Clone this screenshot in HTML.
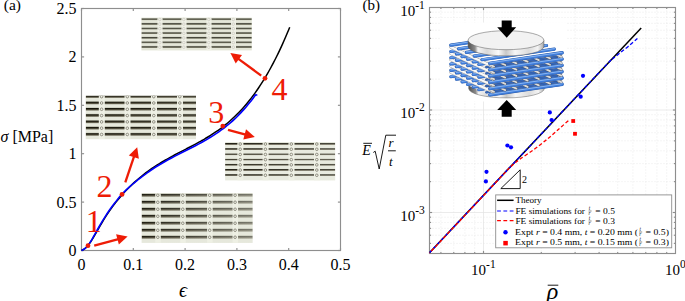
<!DOCTYPE html>
<html><head><meta charset="utf-8"><style>
html,body{margin:0;padding:0;background:#fff;width:685px;height:301px;overflow:hidden}
svg{display:block;font-family:"Liberation Serif",serif}
</style></head><body>
<svg width="685" height="301" viewBox="0 0 685 301">
<defs>
<linearGradient id="dband" x1="0" y1="0" x2="0" y2="1">
<stop offset="0" stop-color="#121208"/><stop offset="0.45" stop-color="#222218"/><stop offset="0.7" stop-color="#5e5e4c"/><stop offset="1" stop-color="#c6c8b4"/>
</linearGradient>
<linearGradient id="dband4" x1="0" y1="0" x2="0" y2="1">
<stop offset="0" stop-color="#4a4a3c"/><stop offset="0.6" stop-color="#5a5a4a"/><stop offset="1" stop-color="#a8a896"/>
</linearGradient>
<linearGradient id="disk" x1="0" y1="0" x2="1" y2="0">
<stop offset="0" stop-color="#505050"/><stop offset="0.09" stop-color="#8a8a8a"/><stop offset="0.13" stop-color="#f4f4f4"/><stop offset="0.25" stop-color="#d8d8d8"/><stop offset="0.4" stop-color="#fafafa"/><stop offset="0.5" stop-color="#c8c8c8"/><stop offset="0.62" stop-color="#f6f6f6"/><stop offset="0.8" stop-color="#dcdcdc"/><stop offset="0.92" stop-color="#f4f4f4"/><stop offset="1" stop-color="#a8a8a8"/>
</linearGradient>
<linearGradient id="pg4" x1="0" y1="0" x2="0" y2="1"><stop offset="0" stop-color="#d0d2c4"/><stop offset="0.385" stop-color="#46463a"/><stop offset="0.692" stop-color="#747462"/><stop offset="1" stop-color="#e4e6d8"/></linearGradient><linearGradient id="pf4" x1="0" y1="0" x2="1" y2="0"><stop offset="0" stop-color="#e4e6d8" stop-opacity="0.0"/><stop offset="1" stop-color="#e4e6d8" stop-opacity="0.0"/></linearGradient><linearGradient id="pg3" x1="0" y1="0" x2="0" y2="1"><stop offset="0" stop-color="#b8baa8"/><stop offset="0.278" stop-color="#141208"/><stop offset="0.639" stop-color="#55513f"/><stop offset="1" stop-color="#e6e8dc"/></linearGradient><linearGradient id="pf3" x1="0" y1="0" x2="1" y2="0"><stop offset="0" stop-color="#e6e8dc" stop-opacity="0.0"/><stop offset="1" stop-color="#e6e8dc" stop-opacity="0.12"/></linearGradient><linearGradient id="pg5" x1="0" y1="0" x2="0" y2="1"><stop offset="0" stop-color="#c8cabc"/><stop offset="0.217" stop-color="#1a180e"/><stop offset="0.696" stop-color="#747060"/><stop offset="1" stop-color="#e8eadf"/></linearGradient><linearGradient id="pf5" x1="0" y1="0" x2="1" y2="0"><stop offset="0" stop-color="#e8eadf" stop-opacity="0.0"/><stop offset="1" stop-color="#e8eadf" stop-opacity="0.2"/></linearGradient><linearGradient id="pg1" x1="0" y1="0" x2="0" y2="1"><stop offset="0" stop-color="#b8baa8"/><stop offset="0.250" stop-color="#1c1a10"/><stop offset="0.600" stop-color="#5a5644"/><stop offset="1" stop-color="#e6e8dc"/></linearGradient><linearGradient id="pf1" x1="0" y1="0" x2="1" y2="0"><stop offset="0" stop-color="#e6e8dc" stop-opacity="0.0"/><stop offset="1" stop-color="#e6e8dc" stop-opacity="0.45"/></linearGradient>
</defs>
<rect x="141.40" y="17.60" width="110.40" height="32.80" fill="#e4e6d8"/>
<svg x="141.40" y="17.60" width="110.40" height="32.80" overflow="hidden"><g transform="translate(-141.40,-17.60)">
<rect x="141.40" y="18.00" width="110.40" height="2.60" fill="url(#pg4)"/>
<rect x="141.40" y="22.62" width="110.40" height="2.60" fill="url(#pg4)"/>
<rect x="141.40" y="27.24" width="110.40" height="2.60" fill="url(#pg4)"/>
<rect x="141.40" y="31.86" width="110.40" height="2.60" fill="url(#pg4)"/>
<rect x="141.40" y="36.48" width="110.40" height="2.60" fill="url(#pg4)"/>
<rect x="141.40" y="41.10" width="110.40" height="2.60" fill="url(#pg4)"/>
<rect x="141.40" y="45.72" width="110.40" height="2.60" fill="url(#pg4)"/>
<rect x="141.40" y="17.60" width="110.40" height="32.80" fill="url(#pf4)"/>
<rect x="157.50" y="17.60" width="5.00" height="32.80" fill="#eef0e4"/>
<circle cx="160.00" cy="19.48" r="2.2" fill="#f0f0e8"/>
<circle cx="159.80" cy="19.48" r="1.3" fill="none" stroke="#c8c8bc" stroke-width="0.7"/>
<circle cx="160.00" cy="24.10" r="2.2" fill="#f0f0e8"/>
<circle cx="159.80" cy="24.10" r="1.3" fill="none" stroke="#c8c8bc" stroke-width="0.7"/>
<circle cx="160.00" cy="28.72" r="2.2" fill="#f0f0e8"/>
<circle cx="159.80" cy="28.72" r="1.3" fill="none" stroke="#c8c8bc" stroke-width="0.7"/>
<circle cx="160.00" cy="33.34" r="2.2" fill="#f0f0e8"/>
<circle cx="159.80" cy="33.34" r="1.3" fill="none" stroke="#c8c8bc" stroke-width="0.7"/>
<circle cx="160.00" cy="37.96" r="2.2" fill="#f0f0e8"/>
<circle cx="159.80" cy="37.96" r="1.3" fill="none" stroke="#c8c8bc" stroke-width="0.7"/>
<circle cx="160.00" cy="42.58" r="2.2" fill="#f0f0e8"/>
<circle cx="159.80" cy="42.58" r="1.3" fill="none" stroke="#c8c8bc" stroke-width="0.7"/>
<circle cx="160.00" cy="47.20" r="2.2" fill="#f0f0e8"/>
<circle cx="159.80" cy="47.20" r="1.3" fill="none" stroke="#c8c8bc" stroke-width="0.7"/>
<rect x="181.50" y="17.60" width="5.00" height="32.80" fill="#eef0e4"/>
<circle cx="184.00" cy="19.48" r="2.2" fill="#f0f0e8"/>
<circle cx="183.80" cy="19.48" r="1.3" fill="none" stroke="#c8c8bc" stroke-width="0.7"/>
<circle cx="184.00" cy="24.10" r="2.2" fill="#f0f0e8"/>
<circle cx="183.80" cy="24.10" r="1.3" fill="none" stroke="#c8c8bc" stroke-width="0.7"/>
<circle cx="184.00" cy="28.72" r="2.2" fill="#f0f0e8"/>
<circle cx="183.80" cy="28.72" r="1.3" fill="none" stroke="#c8c8bc" stroke-width="0.7"/>
<circle cx="184.00" cy="33.34" r="2.2" fill="#f0f0e8"/>
<circle cx="183.80" cy="33.34" r="1.3" fill="none" stroke="#c8c8bc" stroke-width="0.7"/>
<circle cx="184.00" cy="37.96" r="2.2" fill="#f0f0e8"/>
<circle cx="183.80" cy="37.96" r="1.3" fill="none" stroke="#c8c8bc" stroke-width="0.7"/>
<circle cx="184.00" cy="42.58" r="2.2" fill="#f0f0e8"/>
<circle cx="183.80" cy="42.58" r="1.3" fill="none" stroke="#c8c8bc" stroke-width="0.7"/>
<circle cx="184.00" cy="47.20" r="2.2" fill="#f0f0e8"/>
<circle cx="183.80" cy="47.20" r="1.3" fill="none" stroke="#c8c8bc" stroke-width="0.7"/>
<rect x="206.50" y="17.60" width="5.00" height="32.80" fill="#eef0e4"/>
<circle cx="209.00" cy="19.48" r="2.2" fill="#f0f0e8"/>
<circle cx="208.80" cy="19.48" r="1.3" fill="none" stroke="#c8c8bc" stroke-width="0.7"/>
<circle cx="209.00" cy="24.10" r="2.2" fill="#f0f0e8"/>
<circle cx="208.80" cy="24.10" r="1.3" fill="none" stroke="#c8c8bc" stroke-width="0.7"/>
<circle cx="209.00" cy="28.72" r="2.2" fill="#f0f0e8"/>
<circle cx="208.80" cy="28.72" r="1.3" fill="none" stroke="#c8c8bc" stroke-width="0.7"/>
<circle cx="209.00" cy="33.34" r="2.2" fill="#f0f0e8"/>
<circle cx="208.80" cy="33.34" r="1.3" fill="none" stroke="#c8c8bc" stroke-width="0.7"/>
<circle cx="209.00" cy="37.96" r="2.2" fill="#f0f0e8"/>
<circle cx="208.80" cy="37.96" r="1.3" fill="none" stroke="#c8c8bc" stroke-width="0.7"/>
<circle cx="209.00" cy="42.58" r="2.2" fill="#f0f0e8"/>
<circle cx="208.80" cy="42.58" r="1.3" fill="none" stroke="#c8c8bc" stroke-width="0.7"/>
<circle cx="209.00" cy="47.20" r="2.2" fill="#f0f0e8"/>
<circle cx="208.80" cy="47.20" r="1.3" fill="none" stroke="#c8c8bc" stroke-width="0.7"/>
<rect x="231.00" y="17.60" width="5.00" height="32.80" fill="#eef0e4"/>
<circle cx="233.50" cy="19.48" r="2.2" fill="#f0f0e8"/>
<circle cx="233.30" cy="19.48" r="1.3" fill="none" stroke="#c8c8bc" stroke-width="0.7"/>
<circle cx="233.50" cy="24.10" r="2.2" fill="#f0f0e8"/>
<circle cx="233.30" cy="24.10" r="1.3" fill="none" stroke="#c8c8bc" stroke-width="0.7"/>
<circle cx="233.50" cy="28.72" r="2.2" fill="#f0f0e8"/>
<circle cx="233.30" cy="28.72" r="1.3" fill="none" stroke="#c8c8bc" stroke-width="0.7"/>
<circle cx="233.50" cy="33.34" r="2.2" fill="#f0f0e8"/>
<circle cx="233.30" cy="33.34" r="1.3" fill="none" stroke="#c8c8bc" stroke-width="0.7"/>
<circle cx="233.50" cy="37.96" r="2.2" fill="#f0f0e8"/>
<circle cx="233.30" cy="37.96" r="1.3" fill="none" stroke="#c8c8bc" stroke-width="0.7"/>
<circle cx="233.50" cy="42.58" r="2.2" fill="#f0f0e8"/>
<circle cx="233.30" cy="42.58" r="1.3" fill="none" stroke="#c8c8bc" stroke-width="0.7"/>
<circle cx="233.50" cy="47.20" r="2.2" fill="#f0f0e8"/>
<circle cx="233.30" cy="47.20" r="1.3" fill="none" stroke="#c8c8bc" stroke-width="0.7"/>
</g></svg>
<rect x="85.70" y="95.80" width="110.30" height="43.40" fill="#e6e8dc"/>
<svg x="85.70" y="95.80" width="110.30" height="43.40" overflow="hidden"><g transform="translate(-85.70,-95.80)">
<rect x="85.70" y="94.90" width="110.30" height="3.60" fill="url(#pg3)"/>
<rect x="85.70" y="101.20" width="110.30" height="3.60" fill="url(#pg3)"/>
<rect x="85.70" y="107.50" width="110.30" height="3.60" fill="url(#pg3)"/>
<rect x="85.70" y="113.80" width="110.30" height="3.60" fill="url(#pg3)"/>
<rect x="85.70" y="120.10" width="110.30" height="3.60" fill="url(#pg3)"/>
<rect x="85.70" y="126.40" width="110.30" height="3.60" fill="url(#pg3)"/>
<rect x="85.70" y="132.70" width="110.30" height="3.60" fill="url(#pg3)"/>
<rect x="85.70" y="95.80" width="110.30" height="43.40" fill="url(#pf3)"/>
<rect x="98.80" y="95.80" width="6.00" height="43.40" fill="#eef0e4"/>
<circle cx="101.80" cy="96.68" r="2.2" fill="#f0f0e8"/>
<circle cx="101.60" cy="96.68" r="1.3" fill="none" stroke="#6a6a58" stroke-width="0.7"/>
<circle cx="101.80" cy="102.98" r="2.2" fill="#f0f0e8"/>
<circle cx="101.60" cy="102.98" r="1.3" fill="none" stroke="#6a6a58" stroke-width="0.7"/>
<circle cx="101.80" cy="109.28" r="2.2" fill="#f0f0e8"/>
<circle cx="101.60" cy="109.28" r="1.3" fill="none" stroke="#6a6a58" stroke-width="0.7"/>
<circle cx="101.80" cy="115.58" r="2.2" fill="#f0f0e8"/>
<circle cx="101.60" cy="115.58" r="1.3" fill="none" stroke="#6a6a58" stroke-width="0.7"/>
<circle cx="101.80" cy="121.88" r="2.2" fill="#f0f0e8"/>
<circle cx="101.60" cy="121.88" r="1.3" fill="none" stroke="#6a6a58" stroke-width="0.7"/>
<circle cx="101.80" cy="128.18" r="2.2" fill="#f0f0e8"/>
<circle cx="101.60" cy="128.18" r="1.3" fill="none" stroke="#6a6a58" stroke-width="0.7"/>
<circle cx="101.80" cy="134.48" r="2.2" fill="#f0f0e8"/>
<circle cx="101.60" cy="134.48" r="1.3" fill="none" stroke="#6a6a58" stroke-width="0.7"/>
<rect x="124.50" y="95.80" width="6.00" height="43.40" fill="#eef0e4"/>
<circle cx="127.50" cy="96.68" r="2.2" fill="#f0f0e8"/>
<circle cx="127.30" cy="96.68" r="1.3" fill="none" stroke="#6a6a58" stroke-width="0.7"/>
<circle cx="127.50" cy="102.98" r="2.2" fill="#f0f0e8"/>
<circle cx="127.30" cy="102.98" r="1.3" fill="none" stroke="#6a6a58" stroke-width="0.7"/>
<circle cx="127.50" cy="109.28" r="2.2" fill="#f0f0e8"/>
<circle cx="127.30" cy="109.28" r="1.3" fill="none" stroke="#6a6a58" stroke-width="0.7"/>
<circle cx="127.50" cy="115.58" r="2.2" fill="#f0f0e8"/>
<circle cx="127.30" cy="115.58" r="1.3" fill="none" stroke="#6a6a58" stroke-width="0.7"/>
<circle cx="127.50" cy="121.88" r="2.2" fill="#f0f0e8"/>
<circle cx="127.30" cy="121.88" r="1.3" fill="none" stroke="#6a6a58" stroke-width="0.7"/>
<circle cx="127.50" cy="128.18" r="2.2" fill="#f0f0e8"/>
<circle cx="127.30" cy="128.18" r="1.3" fill="none" stroke="#6a6a58" stroke-width="0.7"/>
<circle cx="127.50" cy="134.48" r="2.2" fill="#f0f0e8"/>
<circle cx="127.30" cy="134.48" r="1.3" fill="none" stroke="#6a6a58" stroke-width="0.7"/>
<rect x="151.00" y="95.80" width="6.00" height="43.40" fill="#eef0e4"/>
<circle cx="154.00" cy="96.68" r="2.2" fill="#f0f0e8"/>
<circle cx="153.80" cy="96.68" r="1.3" fill="none" stroke="#6a6a58" stroke-width="0.7"/>
<circle cx="154.00" cy="102.98" r="2.2" fill="#f0f0e8"/>
<circle cx="153.80" cy="102.98" r="1.3" fill="none" stroke="#6a6a58" stroke-width="0.7"/>
<circle cx="154.00" cy="109.28" r="2.2" fill="#f0f0e8"/>
<circle cx="153.80" cy="109.28" r="1.3" fill="none" stroke="#6a6a58" stroke-width="0.7"/>
<circle cx="154.00" cy="115.58" r="2.2" fill="#f0f0e8"/>
<circle cx="153.80" cy="115.58" r="1.3" fill="none" stroke="#6a6a58" stroke-width="0.7"/>
<circle cx="154.00" cy="121.88" r="2.2" fill="#f0f0e8"/>
<circle cx="153.80" cy="121.88" r="1.3" fill="none" stroke="#6a6a58" stroke-width="0.7"/>
<circle cx="154.00" cy="128.18" r="2.2" fill="#f0f0e8"/>
<circle cx="153.80" cy="128.18" r="1.3" fill="none" stroke="#6a6a58" stroke-width="0.7"/>
<circle cx="154.00" cy="134.48" r="2.2" fill="#f0f0e8"/>
<circle cx="153.80" cy="134.48" r="1.3" fill="none" stroke="#6a6a58" stroke-width="0.7"/>
<rect x="177.00" y="95.80" width="6.00" height="43.40" fill="#eef0e4"/>
<circle cx="180.00" cy="96.68" r="2.2" fill="#f0f0e8"/>
<circle cx="179.80" cy="96.68" r="1.3" fill="none" stroke="#6a6a58" stroke-width="0.7"/>
<circle cx="180.00" cy="102.98" r="2.2" fill="#f0f0e8"/>
<circle cx="179.80" cy="102.98" r="1.3" fill="none" stroke="#6a6a58" stroke-width="0.7"/>
<circle cx="180.00" cy="109.28" r="2.2" fill="#f0f0e8"/>
<circle cx="179.80" cy="109.28" r="1.3" fill="none" stroke="#6a6a58" stroke-width="0.7"/>
<circle cx="180.00" cy="115.58" r="2.2" fill="#f0f0e8"/>
<circle cx="179.80" cy="115.58" r="1.3" fill="none" stroke="#6a6a58" stroke-width="0.7"/>
<circle cx="180.00" cy="121.88" r="2.2" fill="#f0f0e8"/>
<circle cx="179.80" cy="121.88" r="1.3" fill="none" stroke="#6a6a58" stroke-width="0.7"/>
<circle cx="180.00" cy="128.18" r="2.2" fill="#f0f0e8"/>
<circle cx="179.80" cy="128.18" r="1.3" fill="none" stroke="#6a6a58" stroke-width="0.7"/>
<circle cx="180.00" cy="134.48" r="2.2" fill="#f0f0e8"/>
<circle cx="179.80" cy="134.48" r="1.3" fill="none" stroke="#6a6a58" stroke-width="0.7"/>
</g></svg>
<rect x="225.10" y="142.10" width="110.10" height="38.30" fill="#e8eadf"/>
<svg x="225.10" y="142.10" width="110.10" height="38.30" overflow="hidden"><g transform="translate(-225.10,-142.10)">
<rect x="225.10" y="142.90" width="110.10" height="2.30" fill="url(#pg5)"/>
<rect x="225.10" y="148.10" width="110.10" height="2.30" fill="url(#pg5)"/>
<rect x="225.10" y="153.30" width="110.10" height="2.30" fill="url(#pg5)"/>
<rect x="225.10" y="158.50" width="110.10" height="2.30" fill="url(#pg5)"/>
<rect x="225.10" y="163.70" width="110.10" height="2.30" fill="url(#pg5)"/>
<rect x="225.10" y="168.90" width="110.10" height="2.30" fill="url(#pg5)"/>
<rect x="225.10" y="174.10" width="110.10" height="2.30" fill="url(#pg5)"/>
<rect x="225.10" y="142.10" width="110.10" height="38.30" fill="url(#pf5)"/>
<rect x="237.40" y="142.10" width="6.00" height="38.30" fill="#eef0e4"/>
<circle cx="240.40" cy="144.06" r="2.2" fill="#f0f0e8"/>
<circle cx="240.20" cy="144.06" r="1.3" fill="none" stroke="#6a6a58" stroke-width="0.7"/>
<circle cx="240.40" cy="149.26" r="2.2" fill="#f0f0e8"/>
<circle cx="240.20" cy="149.26" r="1.3" fill="none" stroke="#6a6a58" stroke-width="0.7"/>
<circle cx="240.40" cy="154.46" r="2.2" fill="#f0f0e8"/>
<circle cx="240.20" cy="154.46" r="1.3" fill="none" stroke="#6a6a58" stroke-width="0.7"/>
<circle cx="240.40" cy="159.66" r="2.2" fill="#f0f0e8"/>
<circle cx="240.20" cy="159.66" r="1.3" fill="none" stroke="#6a6a58" stroke-width="0.7"/>
<circle cx="240.40" cy="164.86" r="2.2" fill="#f0f0e8"/>
<circle cx="240.20" cy="164.86" r="1.3" fill="none" stroke="#6a6a58" stroke-width="0.7"/>
<circle cx="240.40" cy="170.06" r="2.2" fill="#f0f0e8"/>
<circle cx="240.20" cy="170.06" r="1.3" fill="none" stroke="#6a6a58" stroke-width="0.7"/>
<circle cx="240.40" cy="175.26" r="2.2" fill="#f0f0e8"/>
<circle cx="240.20" cy="175.26" r="1.3" fill="none" stroke="#6a6a58" stroke-width="0.7"/>
<rect x="262.60" y="142.10" width="6.00" height="38.30" fill="#eef0e4"/>
<circle cx="265.60" cy="144.06" r="2.2" fill="#f0f0e8"/>
<circle cx="265.40" cy="144.06" r="1.3" fill="none" stroke="#6a6a58" stroke-width="0.7"/>
<circle cx="265.60" cy="149.26" r="2.2" fill="#f0f0e8"/>
<circle cx="265.40" cy="149.26" r="1.3" fill="none" stroke="#6a6a58" stroke-width="0.7"/>
<circle cx="265.60" cy="154.46" r="2.2" fill="#f0f0e8"/>
<circle cx="265.40" cy="154.46" r="1.3" fill="none" stroke="#6a6a58" stroke-width="0.7"/>
<circle cx="265.60" cy="159.66" r="2.2" fill="#f0f0e8"/>
<circle cx="265.40" cy="159.66" r="1.3" fill="none" stroke="#6a6a58" stroke-width="0.7"/>
<circle cx="265.60" cy="164.86" r="2.2" fill="#f0f0e8"/>
<circle cx="265.40" cy="164.86" r="1.3" fill="none" stroke="#6a6a58" stroke-width="0.7"/>
<circle cx="265.60" cy="170.06" r="2.2" fill="#f0f0e8"/>
<circle cx="265.40" cy="170.06" r="1.3" fill="none" stroke="#6a6a58" stroke-width="0.7"/>
<circle cx="265.60" cy="175.26" r="2.2" fill="#f0f0e8"/>
<circle cx="265.40" cy="175.26" r="1.3" fill="none" stroke="#6a6a58" stroke-width="0.7"/>
<rect x="288.50" y="142.10" width="6.00" height="38.30" fill="#eef0e4"/>
<circle cx="291.50" cy="144.06" r="2.2" fill="#f0f0e8"/>
<circle cx="291.30" cy="144.06" r="1.3" fill="none" stroke="#6a6a58" stroke-width="0.7"/>
<circle cx="291.50" cy="149.26" r="2.2" fill="#f0f0e8"/>
<circle cx="291.30" cy="149.26" r="1.3" fill="none" stroke="#6a6a58" stroke-width="0.7"/>
<circle cx="291.50" cy="154.46" r="2.2" fill="#f0f0e8"/>
<circle cx="291.30" cy="154.46" r="1.3" fill="none" stroke="#6a6a58" stroke-width="0.7"/>
<circle cx="291.50" cy="159.66" r="2.2" fill="#f0f0e8"/>
<circle cx="291.30" cy="159.66" r="1.3" fill="none" stroke="#6a6a58" stroke-width="0.7"/>
<circle cx="291.50" cy="164.86" r="2.2" fill="#f0f0e8"/>
<circle cx="291.30" cy="164.86" r="1.3" fill="none" stroke="#6a6a58" stroke-width="0.7"/>
<circle cx="291.50" cy="170.06" r="2.2" fill="#f0f0e8"/>
<circle cx="291.30" cy="170.06" r="1.3" fill="none" stroke="#6a6a58" stroke-width="0.7"/>
<circle cx="291.50" cy="175.26" r="2.2" fill="#f0f0e8"/>
<circle cx="291.30" cy="175.26" r="1.3" fill="none" stroke="#6a6a58" stroke-width="0.7"/>
<rect x="314.00" y="142.10" width="6.00" height="38.30" fill="#eef0e4"/>
<circle cx="317.00" cy="144.06" r="2.2" fill="#f0f0e8"/>
<circle cx="316.80" cy="144.06" r="1.3" fill="none" stroke="#6a6a58" stroke-width="0.7"/>
<circle cx="317.00" cy="149.26" r="2.2" fill="#f0f0e8"/>
<circle cx="316.80" cy="149.26" r="1.3" fill="none" stroke="#6a6a58" stroke-width="0.7"/>
<circle cx="317.00" cy="154.46" r="2.2" fill="#f0f0e8"/>
<circle cx="316.80" cy="154.46" r="1.3" fill="none" stroke="#6a6a58" stroke-width="0.7"/>
<circle cx="317.00" cy="159.66" r="2.2" fill="#f0f0e8"/>
<circle cx="316.80" cy="159.66" r="1.3" fill="none" stroke="#6a6a58" stroke-width="0.7"/>
<circle cx="317.00" cy="164.86" r="2.2" fill="#f0f0e8"/>
<circle cx="316.80" cy="164.86" r="1.3" fill="none" stroke="#6a6a58" stroke-width="0.7"/>
<circle cx="317.00" cy="170.06" r="2.2" fill="#f0f0e8"/>
<circle cx="316.80" cy="170.06" r="1.3" fill="none" stroke="#6a6a58" stroke-width="0.7"/>
<circle cx="317.00" cy="175.26" r="2.2" fill="#f0f0e8"/>
<circle cx="316.80" cy="175.26" r="1.3" fill="none" stroke="#6a6a58" stroke-width="0.7"/>
</g></svg>
<rect x="141.60" y="193.20" width="111.00" height="49.70" fill="#e6e8dc"/>
<svg x="141.60" y="193.20" width="111.00" height="49.70" overflow="hidden"><g transform="translate(-141.60,-193.20)">
<rect x="141.60" y="193.40" width="111.00" height="4.00" fill="url(#pg1)"/>
<rect x="141.60" y="200.40" width="111.00" height="4.00" fill="url(#pg1)"/>
<rect x="141.60" y="207.40" width="111.00" height="4.00" fill="url(#pg1)"/>
<rect x="141.60" y="214.40" width="111.00" height="4.00" fill="url(#pg1)"/>
<rect x="141.60" y="221.40" width="111.00" height="4.00" fill="url(#pg1)"/>
<rect x="141.60" y="228.40" width="111.00" height="4.00" fill="url(#pg1)"/>
<rect x="141.60" y="235.40" width="111.00" height="4.00" fill="url(#pg1)"/>
<rect x="141.60" y="193.20" width="111.00" height="49.70" fill="url(#pf1)"/>
<rect x="155.25" y="193.20" width="5.50" height="49.70" fill="#eef0e4"/>
<circle cx="158.00" cy="195.24" r="2.2" fill="#f0f0e8"/>
<circle cx="157.80" cy="195.24" r="1.3" fill="none" stroke="#6a6a58" stroke-width="0.7"/>
<circle cx="158.00" cy="202.24" r="2.2" fill="#f0f0e8"/>
<circle cx="157.80" cy="202.24" r="1.3" fill="none" stroke="#6a6a58" stroke-width="0.7"/>
<circle cx="158.00" cy="209.24" r="2.2" fill="#f0f0e8"/>
<circle cx="157.80" cy="209.24" r="1.3" fill="none" stroke="#6a6a58" stroke-width="0.7"/>
<circle cx="158.00" cy="216.24" r="2.2" fill="#f0f0e8"/>
<circle cx="157.80" cy="216.24" r="1.3" fill="none" stroke="#6a6a58" stroke-width="0.7"/>
<circle cx="158.00" cy="223.24" r="2.2" fill="#f0f0e8"/>
<circle cx="157.80" cy="223.24" r="1.3" fill="none" stroke="#6a6a58" stroke-width="0.7"/>
<circle cx="158.00" cy="230.24" r="2.2" fill="#f0f0e8"/>
<circle cx="157.80" cy="230.24" r="1.3" fill="none" stroke="#6a6a58" stroke-width="0.7"/>
<circle cx="158.00" cy="237.24" r="2.2" fill="#f0f0e8"/>
<circle cx="157.80" cy="237.24" r="1.3" fill="none" stroke="#6a6a58" stroke-width="0.7"/>
<rect x="180.25" y="193.20" width="5.50" height="49.70" fill="#eef0e4"/>
<circle cx="183.00" cy="195.24" r="2.2" fill="#f0f0e8"/>
<circle cx="182.80" cy="195.24" r="1.3" fill="none" stroke="#6a6a58" stroke-width="0.7"/>
<circle cx="183.00" cy="202.24" r="2.2" fill="#f0f0e8"/>
<circle cx="182.80" cy="202.24" r="1.3" fill="none" stroke="#6a6a58" stroke-width="0.7"/>
<circle cx="183.00" cy="209.24" r="2.2" fill="#f0f0e8"/>
<circle cx="182.80" cy="209.24" r="1.3" fill="none" stroke="#6a6a58" stroke-width="0.7"/>
<circle cx="183.00" cy="216.24" r="2.2" fill="#f0f0e8"/>
<circle cx="182.80" cy="216.24" r="1.3" fill="none" stroke="#6a6a58" stroke-width="0.7"/>
<circle cx="183.00" cy="223.24" r="2.2" fill="#f0f0e8"/>
<circle cx="182.80" cy="223.24" r="1.3" fill="none" stroke="#6a6a58" stroke-width="0.7"/>
<circle cx="183.00" cy="230.24" r="2.2" fill="#f0f0e8"/>
<circle cx="182.80" cy="230.24" r="1.3" fill="none" stroke="#6a6a58" stroke-width="0.7"/>
<circle cx="183.00" cy="237.24" r="2.2" fill="#f0f0e8"/>
<circle cx="182.80" cy="237.24" r="1.3" fill="none" stroke="#6a6a58" stroke-width="0.7"/>
<rect x="207.15" y="193.20" width="5.50" height="49.70" fill="#eef0e4"/>
<circle cx="209.90" cy="195.24" r="2.2" fill="#f0f0e8"/>
<circle cx="209.70" cy="195.24" r="1.3" fill="none" stroke="#6a6a58" stroke-width="0.7"/>
<circle cx="209.90" cy="202.24" r="2.2" fill="#f0f0e8"/>
<circle cx="209.70" cy="202.24" r="1.3" fill="none" stroke="#6a6a58" stroke-width="0.7"/>
<circle cx="209.90" cy="209.24" r="2.2" fill="#f0f0e8"/>
<circle cx="209.70" cy="209.24" r="1.3" fill="none" stroke="#6a6a58" stroke-width="0.7"/>
<circle cx="209.90" cy="216.24" r="2.2" fill="#f0f0e8"/>
<circle cx="209.70" cy="216.24" r="1.3" fill="none" stroke="#6a6a58" stroke-width="0.7"/>
<circle cx="209.90" cy="223.24" r="2.2" fill="#f0f0e8"/>
<circle cx="209.70" cy="223.24" r="1.3" fill="none" stroke="#6a6a58" stroke-width="0.7"/>
<circle cx="209.90" cy="230.24" r="2.2" fill="#f0f0e8"/>
<circle cx="209.70" cy="230.24" r="1.3" fill="none" stroke="#6a6a58" stroke-width="0.7"/>
<circle cx="209.90" cy="237.24" r="2.2" fill="#f0f0e8"/>
<circle cx="209.70" cy="237.24" r="1.3" fill="none" stroke="#6a6a58" stroke-width="0.7"/>
<rect x="232.55" y="193.20" width="5.50" height="49.70" fill="#eef0e4"/>
<circle cx="235.30" cy="195.24" r="2.2" fill="#f0f0e8"/>
<circle cx="235.10" cy="195.24" r="1.3" fill="none" stroke="#6a6a58" stroke-width="0.7"/>
<circle cx="235.30" cy="202.24" r="2.2" fill="#f0f0e8"/>
<circle cx="235.10" cy="202.24" r="1.3" fill="none" stroke="#6a6a58" stroke-width="0.7"/>
<circle cx="235.30" cy="209.24" r="2.2" fill="#f0f0e8"/>
<circle cx="235.10" cy="209.24" r="1.3" fill="none" stroke="#6a6a58" stroke-width="0.7"/>
<circle cx="235.30" cy="216.24" r="2.2" fill="#f0f0e8"/>
<circle cx="235.10" cy="216.24" r="1.3" fill="none" stroke="#6a6a58" stroke-width="0.7"/>
<circle cx="235.30" cy="223.24" r="2.2" fill="#f0f0e8"/>
<circle cx="235.10" cy="223.24" r="1.3" fill="none" stroke="#6a6a58" stroke-width="0.7"/>
<circle cx="235.30" cy="230.24" r="2.2" fill="#f0f0e8"/>
<circle cx="235.10" cy="230.24" r="1.3" fill="none" stroke="#6a6a58" stroke-width="0.7"/>
<circle cx="235.30" cy="237.24" r="2.2" fill="#f0f0e8"/>
<circle cx="235.10" cy="237.24" r="1.3" fill="none" stroke="#6a6a58" stroke-width="0.7"/>
</g></svg>
<text x="3.8" y="10.2" font-family="Liberation Serif" font-size="15.5" fill="#000">(a)</text>
<text x="362.6" y="10.4" font-family="Liberation Serif" font-size="15" fill="#000">(b)</text>
<rect x="81.5" y="8.5" width="259.0" height="242.0" fill="none" stroke="#8e8e8e" stroke-width="1.15"/>
<line x1="81.50" y1="250.5" x2="81.50" y2="247.9" stroke="#8e8e8e" stroke-width="1.15"/>
<line x1="81.50" y1="8.5" x2="81.50" y2="11.1" stroke="#8e8e8e" stroke-width="1.15"/>
<text x="81.50" y="269.5" text-anchor="middle" font-family="Liberation Serif" font-size="16" fill="#000">0</text>
<line x1="133.30" y1="250.5" x2="133.30" y2="247.9" stroke="#8e8e8e" stroke-width="1.15"/>
<line x1="133.30" y1="8.5" x2="133.30" y2="11.1" stroke="#8e8e8e" stroke-width="1.15"/>
<text x="133.30" y="269.5" text-anchor="middle" font-family="Liberation Serif" font-size="16" fill="#000">0.1</text>
<line x1="185.10" y1="250.5" x2="185.10" y2="247.9" stroke="#8e8e8e" stroke-width="1.15"/>
<line x1="185.10" y1="8.5" x2="185.10" y2="11.1" stroke="#8e8e8e" stroke-width="1.15"/>
<text x="185.10" y="269.5" text-anchor="middle" font-family="Liberation Serif" font-size="16" fill="#000">0.2</text>
<line x1="236.90" y1="250.5" x2="236.90" y2="247.9" stroke="#8e8e8e" stroke-width="1.15"/>
<line x1="236.90" y1="8.5" x2="236.90" y2="11.1" stroke="#8e8e8e" stroke-width="1.15"/>
<text x="236.90" y="269.5" text-anchor="middle" font-family="Liberation Serif" font-size="16" fill="#000">0.3</text>
<line x1="288.70" y1="250.5" x2="288.70" y2="247.9" stroke="#8e8e8e" stroke-width="1.15"/>
<line x1="288.70" y1="8.5" x2="288.70" y2="11.1" stroke="#8e8e8e" stroke-width="1.15"/>
<text x="288.70" y="269.5" text-anchor="middle" font-family="Liberation Serif" font-size="16" fill="#000">0.4</text>
<line x1="340.50" y1="250.5" x2="340.50" y2="247.9" stroke="#8e8e8e" stroke-width="1.15"/>
<line x1="340.50" y1="8.5" x2="340.50" y2="11.1" stroke="#8e8e8e" stroke-width="1.15"/>
<text x="340.50" y="269.5" text-anchor="middle" font-family="Liberation Serif" font-size="16" fill="#000">0.5</text>
<line x1="81.5" y1="250.50" x2="84.1" y2="250.50" stroke="#8e8e8e" stroke-width="1.15"/>
<line x1="340.5" y1="250.50" x2="337.9" y2="250.50" stroke="#8e8e8e" stroke-width="1.15"/>
<text x="76.6" y="256.00" text-anchor="end" font-family="Liberation Serif" font-size="16" fill="#000">0</text>
<line x1="81.5" y1="202.10" x2="84.1" y2="202.10" stroke="#8e8e8e" stroke-width="1.15"/>
<line x1="340.5" y1="202.10" x2="337.9" y2="202.10" stroke="#8e8e8e" stroke-width="1.15"/>
<text x="76.6" y="207.60" text-anchor="end" font-family="Liberation Serif" font-size="16" fill="#000">0.5</text>
<line x1="81.5" y1="153.70" x2="84.1" y2="153.70" stroke="#8e8e8e" stroke-width="1.15"/>
<line x1="340.5" y1="153.70" x2="337.9" y2="153.70" stroke="#8e8e8e" stroke-width="1.15"/>
<text x="76.6" y="159.20" text-anchor="end" font-family="Liberation Serif" font-size="16" fill="#000">1</text>
<line x1="81.5" y1="105.30" x2="84.1" y2="105.30" stroke="#8e8e8e" stroke-width="1.15"/>
<line x1="340.5" y1="105.30" x2="337.9" y2="105.30" stroke="#8e8e8e" stroke-width="1.15"/>
<text x="76.6" y="110.80" text-anchor="end" font-family="Liberation Serif" font-size="16" fill="#000">1.5</text>
<line x1="81.5" y1="56.90" x2="84.1" y2="56.90" stroke="#8e8e8e" stroke-width="1.15"/>
<line x1="340.5" y1="56.90" x2="337.9" y2="56.90" stroke="#8e8e8e" stroke-width="1.15"/>
<text x="76.6" y="62.40" text-anchor="end" font-family="Liberation Serif" font-size="16" fill="#000">2</text>
<line x1="81.5" y1="8.50" x2="84.1" y2="8.50" stroke="#8e8e8e" stroke-width="1.15"/>
<line x1="340.5" y1="8.50" x2="337.9" y2="8.50" stroke="#8e8e8e" stroke-width="1.15"/>
<text x="76.6" y="14.00" text-anchor="end" font-family="Liberation Serif" font-size="16" fill="#000">2.5</text>
<text x="0.5" y="142" font-family="Liberation Serif" font-size="16" fill="#000"><tspan font-style="italic">σ</tspan> [MPa]</text>
<text x="179" y="297" font-family="Liberation Serif" font-style="italic" font-size="20" fill="#000">ϵ</text>
<path d="M81.50,250.53 C82.00,250.26 83.50,249.68 84.50,248.92 C85.50,248.17 86.50,247.14 87.50,245.98 C88.50,244.83 89.50,243.46 90.50,242.01 C91.50,240.56 92.50,238.94 93.50,237.30 C94.50,235.66 95.50,233.90 96.50,232.16 C97.50,230.43 98.50,228.62 99.50,226.89 C100.50,225.16 101.50,223.44 102.50,221.78 C103.50,220.13 104.50,218.52 105.50,216.96 C106.50,215.41 107.50,213.90 108.50,212.43 C109.50,210.96 110.50,209.54 111.50,208.16 C112.50,206.77 113.50,205.43 114.50,204.13 C115.50,202.82 116.50,201.55 117.50,200.32 C118.50,199.09 119.50,197.89 120.50,196.72 C121.50,195.56 122.50,194.42 123.50,193.31 C124.50,192.21 125.50,191.13 126.50,190.08 C127.50,189.03 128.50,188.01 129.50,187.01 C130.50,186.01 131.50,185.04 132.50,184.10 C133.50,183.15 134.50,182.23 135.50,181.34 C136.50,180.44 137.50,179.56 138.50,178.71 C139.50,177.86 140.50,177.03 141.50,176.22 C142.50,175.41 143.50,174.62 144.50,173.85 C145.50,173.08 146.50,172.33 147.50,171.60 C148.50,170.86 149.50,170.15 150.50,169.45 C151.50,168.75 152.50,168.07 153.50,167.40 C154.50,166.73 155.50,166.07 156.50,165.43 C157.50,164.79 158.50,164.17 159.50,163.55 C160.50,162.93 161.50,162.33 162.50,161.74 C163.50,161.14 164.50,160.56 165.50,159.99 C166.50,159.41 167.50,158.85 168.50,158.29 C169.50,157.74 170.50,157.19 171.50,156.64 C172.50,156.10 173.50,155.57 174.50,155.03 C175.50,154.50 176.50,153.97 177.50,153.45 C178.50,152.92 179.50,152.40 180.50,151.89 C181.50,151.37 182.50,150.85 183.50,150.33 C184.50,149.82 185.50,149.30 186.50,148.78 C187.50,148.27 188.50,147.75 189.50,147.23 C190.50,146.71 191.50,146.19 192.50,145.66 C193.50,145.13 194.50,144.60 195.50,144.06 C196.50,143.53 197.50,142.99 198.50,142.44 C199.50,141.89 200.50,141.33 201.50,140.77 C202.50,140.20 203.50,139.63 204.50,139.04 C205.50,138.46 206.50,137.86 207.50,137.26 C208.50,136.65 209.50,136.03 210.50,135.40 C211.50,134.77 212.50,134.12 213.50,133.46 C214.50,132.80 215.50,132.12 216.50,131.43 C217.50,130.73 218.50,130.03 219.50,129.30 C220.50,128.57 221.50,127.82 222.50,127.05 C223.50,126.29 224.50,125.50 225.50,124.69 C226.50,123.88 227.50,123.05 228.50,122.20 C229.50,121.34 230.50,120.47 231.50,119.56 C232.50,118.66 233.50,117.74 234.50,116.78 C235.50,115.83 236.50,114.85 237.50,113.84 C238.50,112.83 239.50,111.80 240.50,110.73 C241.50,109.67 242.50,108.57 243.50,107.44 C244.50,106.32 245.50,105.16 246.50,103.97 C247.50,102.78 248.50,101.55 249.50,100.30 C250.50,99.04 251.50,97.75 252.50,96.42 C253.50,95.09 254.50,93.72 255.50,92.32 C256.50,90.92 257.50,89.48 258.50,88.00 C259.50,86.51 260.50,85.00 261.50,83.44 C262.50,81.88 263.50,80.28 264.50,78.63 C265.50,76.99 266.50,75.30 267.50,73.57 C268.50,71.84 269.50,70.07 270.50,68.24 C271.50,66.42 272.50,64.56 273.50,62.64 C274.50,60.73 275.50,58.77 276.50,56.76 C277.50,54.75 278.50,52.69 279.50,50.58 C280.50,48.47 281.50,46.31 282.50,44.10 C283.50,41.89 284.50,39.62 285.50,37.30 C286.50,34.99 287.80,31.86 288.50,30.19 C289.20,28.51 289.50,27.74 289.70,27.25" fill="none" stroke="#000" stroke-width="1.5" stroke-linejoin="round"/>
<path d="M81.50,250.53 C82.00,250.26 83.50,249.68 84.50,248.92 C85.50,248.17 86.50,247.15 87.50,245.98 C88.50,244.82 89.50,243.47 90.50,241.92 C91.50,240.37 92.50,238.45 93.50,236.67 C94.50,234.90 95.50,233.04 96.50,231.26 C97.50,229.48 98.50,227.72 99.50,225.99 C100.50,224.26 101.50,222.54 102.50,220.88 C103.50,219.23 104.50,217.62 105.50,216.06 C106.50,214.51 107.50,213.00 108.50,211.53 C109.50,210.06 110.50,208.64 111.50,207.26 C112.50,205.87 113.50,204.53 114.50,203.23 C115.50,201.92 116.50,200.65 117.50,199.42 C118.50,198.19 119.50,196.97 120.50,195.82 C121.50,194.68 122.50,193.60 123.50,192.56 C124.50,191.53 125.50,190.58 126.50,189.63 C127.50,188.68 128.50,187.76 129.50,186.86 C130.50,185.96 131.50,185.09 132.50,184.25 C133.50,183.40 134.50,182.58 135.50,181.79 C136.50,180.99 137.50,180.24 138.50,179.46 C139.50,178.69 140.50,177.92 141.50,177.14 C142.50,176.37 143.50,175.57 144.50,174.81 C145.50,174.05 146.50,173.32 147.50,172.60 C148.50,171.88 149.50,171.17 150.50,170.49 C151.50,169.80 152.50,169.13 153.50,168.48 C154.50,167.82 155.50,167.18 156.50,166.55 C157.50,165.93 158.50,165.31 159.50,164.71 C160.50,164.11 161.50,163.52 162.50,162.94 C163.50,162.36 164.50,161.79 165.50,161.23 C166.50,160.67 167.50,160.12 168.50,159.57 C169.50,159.03 170.50,158.50 171.50,157.96 C172.50,157.43 173.50,156.91 174.50,156.39 C175.50,155.87 176.50,155.36 177.50,154.85 C178.50,154.34 179.50,153.83 180.50,153.33 C181.50,152.82 182.50,152.32 183.50,151.81 C184.50,151.31 185.50,150.81 186.50,150.30 C187.50,149.80 188.50,149.30 189.50,148.79 C190.50,148.28 191.50,147.77 192.50,147.26 C193.50,146.74 194.50,146.23 195.50,145.70 C196.50,145.18 197.50,144.65 198.50,144.12 C199.50,143.58 200.50,143.04 201.50,142.49 C202.50,141.94 203.50,141.39 204.50,140.82 C205.50,140.25 206.50,139.68 207.50,139.09 C208.50,138.50 209.50,137.90 210.50,137.28 C211.50,136.67 212.50,136.04 213.50,135.40 C214.50,134.75 215.50,134.09 216.50,133.42 C217.50,132.74 218.50,132.05 219.50,131.34 C220.50,130.63 221.50,129.90 222.50,129.15 C223.50,128.40 224.50,127.63 225.50,126.84 C226.50,126.05 227.50,125.23 228.50,124.40 C229.50,123.56 230.50,122.70 231.50,121.82 C232.50,120.93 233.50,120.02 234.50,119.09 C235.50,118.15 236.50,117.19 237.50,116.20 C238.50,115.21 239.50,114.19 240.50,113.14 C241.50,112.09 242.50,111.02 243.50,109.91 C244.50,108.80 245.50,107.66 246.50,106.48 C247.50,105.31 248.50,104.11 249.50,102.86 C250.50,101.62 251.50,100.35 252.50,99.04 C253.50,97.72 254.70,95.60 255.50,94.99 C256.30,94.39 257.00,95.33 257.30,95.40" fill="none" stroke="#0000ff" stroke-width="1.6" stroke-linejoin="round"/>
<circle cx="88" cy="245.7" r="2.4" fill="#ee1c06"/>
<circle cx="122" cy="194.4" r="2.4" fill="#ee1c06"/>
<circle cx="222.8" cy="126.1" r="2.4" fill="#ee1c06"/>
<circle cx="265" cy="78.3" r="2.4" fill="#ee1c06"/>
<line x1="94.20" y1="245.70" x2="118.43" y2="239.10" stroke="#ee1c06" stroke-width="2.3"/><polygon points="127.60,236.60 118.86,244.47 116.08,234.25" fill="#ee1c06"/>
<line x1="125.30" y1="182.40" x2="134.16" y2="156.20" stroke="#ee1c06" stroke-width="2.3"/><polygon points="137.20,147.20 138.86,158.84 128.82,155.45" fill="#ee1c06"/>
<line x1="228.00" y1="129.90" x2="245.63" y2="134.64" stroke="#ee1c06" stroke-width="2.3"/><polygon points="254.80,137.10 243.28,139.49 246.03,129.26" fill="#ee1c06"/>
<line x1="261.20" y1="75.60" x2="238.06" y2="58.62" stroke="#ee1c06" stroke-width="2.3"/><polygon points="230.40,53.00 242.00,54.94 235.73,63.48" fill="#ee1c06"/>
<text x="85.8" y="232.2" font-family="Liberation Serif" font-size="32" fill="#ee1c06">1</text>
<text x="96.6" y="197.2" font-family="Liberation Serif" font-size="32" fill="#ee1c06">2</text>
<text x="208.2" y="123.2" font-family="Liberation Serif" font-size="32" fill="#ee1c06">3</text>
<text x="271.6" y="99.6" font-family="Liberation Serif" font-size="32" fill="#ee1c06">4</text>
<line x1="440.91" y1="7.5" x2="440.91" y2="253.5" stroke="#e2e2e2" stroke-width="0.7" stroke-dasharray="1,2"/>
<line x1="453.76" y1="7.5" x2="453.76" y2="253.5" stroke="#e2e2e2" stroke-width="0.7" stroke-dasharray="1,2"/>
<line x1="464.89" y1="7.5" x2="464.89" y2="253.5" stroke="#e2e2e2" stroke-width="0.7" stroke-dasharray="1,2"/>
<line x1="474.71" y1="7.5" x2="474.71" y2="253.5" stroke="#e2e2e2" stroke-width="0.7" stroke-dasharray="1,2"/>
<line x1="483.50" y1="7.5" x2="483.50" y2="253.5" stroke="#e2e2e2" stroke-width="0.7" stroke-dasharray=""/>
<line x1="541.30" y1="7.5" x2="541.30" y2="253.5" stroke="#e2e2e2" stroke-width="0.7" stroke-dasharray="1,2"/>
<line x1="575.11" y1="7.5" x2="575.11" y2="253.5" stroke="#e2e2e2" stroke-width="0.7" stroke-dasharray="1,2"/>
<line x1="599.10" y1="7.5" x2="599.10" y2="253.5" stroke="#e2e2e2" stroke-width="0.7" stroke-dasharray="1,2"/>
<line x1="617.70" y1="7.5" x2="617.70" y2="253.5" stroke="#e2e2e2" stroke-width="0.7" stroke-dasharray="1,2"/>
<line x1="632.91" y1="7.5" x2="632.91" y2="253.5" stroke="#e2e2e2" stroke-width="0.7" stroke-dasharray="1,2"/>
<line x1="645.76" y1="7.5" x2="645.76" y2="253.5" stroke="#e2e2e2" stroke-width="0.7" stroke-dasharray="1,2"/>
<line x1="656.89" y1="7.5" x2="656.89" y2="253.5" stroke="#e2e2e2" stroke-width="0.7" stroke-dasharray="1,2"/>
<line x1="666.71" y1="7.5" x2="666.71" y2="253.5" stroke="#e2e2e2" stroke-width="0.7" stroke-dasharray="1,2"/>
<line x1="429.5" y1="243.36" x2="675.5" y2="243.36" stroke="#e2e2e2" stroke-width="0.7" stroke-dasharray="1,2"/>
<line x1="429.5" y1="235.24" x2="675.5" y2="235.24" stroke="#e2e2e2" stroke-width="0.7" stroke-dasharray="1,2"/>
<line x1="429.5" y1="228.38" x2="675.5" y2="228.38" stroke="#e2e2e2" stroke-width="0.7" stroke-dasharray="1,2"/>
<line x1="429.5" y1="222.43" x2="675.5" y2="222.43" stroke="#e2e2e2" stroke-width="0.7" stroke-dasharray="1,2"/>
<line x1="429.5" y1="217.19" x2="675.5" y2="217.19" stroke="#e2e2e2" stroke-width="0.7" stroke-dasharray="1,2"/>
<line x1="429.5" y1="212.50" x2="675.5" y2="212.50" stroke="#e2e2e2" stroke-width="0.7" stroke-dasharray=""/>
<line x1="429.5" y1="181.64" x2="675.5" y2="181.64" stroke="#e2e2e2" stroke-width="0.7" stroke-dasharray="1,2"/>
<line x1="429.5" y1="163.60" x2="675.5" y2="163.60" stroke="#e2e2e2" stroke-width="0.7" stroke-dasharray="1,2"/>
<line x1="429.5" y1="150.79" x2="675.5" y2="150.79" stroke="#e2e2e2" stroke-width="0.7" stroke-dasharray="1,2"/>
<line x1="429.5" y1="140.86" x2="675.5" y2="140.86" stroke="#e2e2e2" stroke-width="0.7" stroke-dasharray="1,2"/>
<line x1="429.5" y1="132.74" x2="675.5" y2="132.74" stroke="#e2e2e2" stroke-width="0.7" stroke-dasharray="1,2"/>
<line x1="429.5" y1="125.88" x2="675.5" y2="125.88" stroke="#e2e2e2" stroke-width="0.7" stroke-dasharray="1,2"/>
<line x1="429.5" y1="119.93" x2="675.5" y2="119.93" stroke="#e2e2e2" stroke-width="0.7" stroke-dasharray="1,2"/>
<line x1="429.5" y1="114.69" x2="675.5" y2="114.69" stroke="#e2e2e2" stroke-width="0.7" stroke-dasharray="1,2"/>
<line x1="429.5" y1="110.00" x2="675.5" y2="110.00" stroke="#e2e2e2" stroke-width="0.7" stroke-dasharray=""/>
<line x1="429.5" y1="79.14" x2="675.5" y2="79.14" stroke="#e2e2e2" stroke-width="0.7" stroke-dasharray="1,2"/>
<line x1="429.5" y1="61.10" x2="675.5" y2="61.10" stroke="#e2e2e2" stroke-width="0.7" stroke-dasharray="1,2"/>
<line x1="429.5" y1="48.29" x2="675.5" y2="48.29" stroke="#e2e2e2" stroke-width="0.7" stroke-dasharray="1,2"/>
<line x1="429.5" y1="38.36" x2="675.5" y2="38.36" stroke="#e2e2e2" stroke-width="0.7" stroke-dasharray="1,2"/>
<line x1="429.5" y1="30.24" x2="675.5" y2="30.24" stroke="#e2e2e2" stroke-width="0.7" stroke-dasharray="1,2"/>
<line x1="429.5" y1="23.38" x2="675.5" y2="23.38" stroke="#e2e2e2" stroke-width="0.7" stroke-dasharray="1,2"/>
<line x1="429.5" y1="17.43" x2="675.5" y2="17.43" stroke="#e2e2e2" stroke-width="0.7" stroke-dasharray="1,2"/>
<line x1="429.5" y1="12.19" x2="675.5" y2="12.19" stroke="#e2e2e2" stroke-width="0.7" stroke-dasharray="1,2"/>
<rect x="440" y="22.5" width="126.5" height="79" fill="#fff"/>
<path d="M468.7,82 L468.7,88.5 A37.85,9.4 0 0 0 544.4,88.5 L544.4,82 Z" fill="url(#disk)" stroke="#666" stroke-width="0.5"/>
<polygon points="451.30,43.50 491.30,62.14 491.30,96.14 451.30,77.50" fill="#e8eaee"/>
<polygon points="491.30,62.14 562.10,51.80 562.10,85.80 491.30,96.14" fill="#9aa2b2"/>
<line x1="486.30" y1="92.31" x2="557.10" y2="81.97" stroke="#2a4f90" stroke-width="2.3" stroke-linecap="round"/><line x1="486.30" y1="92.31" x2="557.10" y2="81.97" stroke="#3566b8" stroke-width="1.7" stroke-linecap="round"/>
<line x1="450.80" y1="76.69" x2="455.80" y2="75.95" stroke="#2a5aa8" stroke-width="3.1" stroke-linecap="round"/><line x1="450.80" y1="76.69" x2="455.80" y2="75.95" stroke="#3f7ddb" stroke-width="2.5" stroke-linecap="round"/><line x1="450.80" y1="76.19" x2="455.80" y2="75.45" stroke="#8ab6f2" stroke-width="0.875" stroke-linecap="round"/>
<line x1="456.40" y1="79.29" x2="461.40" y2="78.56" stroke="#2a5aa8" stroke-width="3.1" stroke-linecap="round"/><line x1="456.40" y1="79.29" x2="461.40" y2="78.56" stroke="#3f7ddb" stroke-width="2.5" stroke-linecap="round"/><line x1="456.40" y1="78.79" x2="461.40" y2="78.06" stroke="#8ab6f2" stroke-width="0.875" stroke-linecap="round"/>
<line x1="462.00" y1="81.90" x2="467.00" y2="81.17" stroke="#2a5aa8" stroke-width="3.1" stroke-linecap="round"/><line x1="462.00" y1="81.90" x2="467.00" y2="81.17" stroke="#3f7ddb" stroke-width="2.5" stroke-linecap="round"/><line x1="462.00" y1="81.40" x2="467.00" y2="80.67" stroke="#8ab6f2" stroke-width="0.875" stroke-linecap="round"/>
<line x1="467.60" y1="84.51" x2="472.60" y2="83.78" stroke="#2a5aa8" stroke-width="3.1" stroke-linecap="round"/><line x1="467.60" y1="84.51" x2="472.60" y2="83.78" stroke="#3f7ddb" stroke-width="2.5" stroke-linecap="round"/><line x1="467.60" y1="84.01" x2="472.60" y2="83.28" stroke="#8ab6f2" stroke-width="0.875" stroke-linecap="round"/>
<line x1="473.20" y1="87.12" x2="478.20" y2="86.39" stroke="#2a5aa8" stroke-width="3.1" stroke-linecap="round"/><line x1="473.20" y1="87.12" x2="478.20" y2="86.39" stroke="#3f7ddb" stroke-width="2.5" stroke-linecap="round"/><line x1="473.20" y1="86.62" x2="478.20" y2="85.89" stroke="#8ab6f2" stroke-width="0.875" stroke-linecap="round"/>
<line x1="478.80" y1="89.73" x2="483.80" y2="89.00" stroke="#2a5aa8" stroke-width="3.1" stroke-linecap="round"/><line x1="478.80" y1="89.73" x2="483.80" y2="89.00" stroke="#3f7ddb" stroke-width="2.5" stroke-linecap="round"/><line x1="478.80" y1="89.23" x2="483.80" y2="88.50" stroke="#8ab6f2" stroke-width="0.875" stroke-linecap="round"/>
<line x1="489.80" y1="94.86" x2="562.10" y2="84.30" stroke="#2a5aa8" stroke-width="3.4" stroke-linecap="round"/><line x1="489.80" y1="94.86" x2="562.10" y2="84.30" stroke="#3f7ddb" stroke-width="2.8" stroke-linecap="round"/><line x1="489.80" y1="94.30" x2="562.10" y2="83.74" stroke="#8ab6f2" stroke-width="0.9799999999999999" stroke-linecap="round"/>
<line x1="450.80" y1="72.31" x2="492.80" y2="91.88" stroke="#8c8c8c" stroke-width="2.9" stroke-linecap="round"/><line x1="450.80" y1="72.31" x2="492.80" y2="91.88" stroke="#f4f4f4" stroke-width="2.3" stroke-linecap="round"/><line x1="450.80" y1="71.85" x2="492.80" y2="91.42" stroke="#ffffff" stroke-width="0.8049999999999999" stroke-linecap="round"/>
<line x1="486.30" y1="86.01" x2="557.10" y2="75.67" stroke="#2a4f90" stroke-width="2.3" stroke-linecap="round"/><line x1="486.30" y1="86.01" x2="557.10" y2="75.67" stroke="#3566b8" stroke-width="1.7" stroke-linecap="round"/>
<line x1="450.80" y1="70.39" x2="455.80" y2="69.66" stroke="#2a5aa8" stroke-width="3.1" stroke-linecap="round"/><line x1="450.80" y1="70.39" x2="455.80" y2="69.66" stroke="#3f7ddb" stroke-width="2.5" stroke-linecap="round"/><line x1="450.80" y1="69.89" x2="455.80" y2="69.16" stroke="#8ab6f2" stroke-width="0.875" stroke-linecap="round"/>
<line x1="456.40" y1="72.99" x2="461.40" y2="72.26" stroke="#2a5aa8" stroke-width="3.1" stroke-linecap="round"/><line x1="456.40" y1="72.99" x2="461.40" y2="72.26" stroke="#3f7ddb" stroke-width="2.5" stroke-linecap="round"/><line x1="456.40" y1="72.49" x2="461.40" y2="71.76" stroke="#8ab6f2" stroke-width="0.875" stroke-linecap="round"/>
<line x1="462.00" y1="75.60" x2="467.00" y2="74.87" stroke="#2a5aa8" stroke-width="3.1" stroke-linecap="round"/><line x1="462.00" y1="75.60" x2="467.00" y2="74.87" stroke="#3f7ddb" stroke-width="2.5" stroke-linecap="round"/><line x1="462.00" y1="75.10" x2="467.00" y2="74.37" stroke="#8ab6f2" stroke-width="0.875" stroke-linecap="round"/>
<line x1="467.60" y1="78.21" x2="472.60" y2="77.48" stroke="#2a5aa8" stroke-width="3.1" stroke-linecap="round"/><line x1="467.60" y1="78.21" x2="472.60" y2="77.48" stroke="#3f7ddb" stroke-width="2.5" stroke-linecap="round"/><line x1="467.60" y1="77.71" x2="472.60" y2="76.98" stroke="#8ab6f2" stroke-width="0.875" stroke-linecap="round"/>
<line x1="473.20" y1="80.82" x2="478.20" y2="80.09" stroke="#2a5aa8" stroke-width="3.1" stroke-linecap="round"/><line x1="473.20" y1="80.82" x2="478.20" y2="80.09" stroke="#3f7ddb" stroke-width="2.5" stroke-linecap="round"/><line x1="473.20" y1="80.32" x2="478.20" y2="79.59" stroke="#8ab6f2" stroke-width="0.875" stroke-linecap="round"/>
<line x1="478.80" y1="83.43" x2="483.80" y2="82.70" stroke="#2a5aa8" stroke-width="3.1" stroke-linecap="round"/><line x1="478.80" y1="83.43" x2="483.80" y2="82.70" stroke="#3f7ddb" stroke-width="2.5" stroke-linecap="round"/><line x1="478.80" y1="82.93" x2="483.80" y2="82.20" stroke="#8ab6f2" stroke-width="0.875" stroke-linecap="round"/>
<line x1="489.80" y1="89.87" x2="494.00" y2="91.83" stroke="#4a4a4a" stroke-width="2.5" stroke-linecap="round"/><line x1="489.80" y1="89.87" x2="494.00" y2="91.83" stroke="#dcdcdc" stroke-width="1.9" stroke-linecap="round"/>
<line x1="501.00" y1="88.24" x2="505.20" y2="90.20" stroke="#4a4a4a" stroke-width="2.5" stroke-linecap="round"/><line x1="501.00" y1="88.24" x2="505.20" y2="90.20" stroke="#dcdcdc" stroke-width="1.9" stroke-linecap="round"/>
<line x1="512.20" y1="86.60" x2="516.40" y2="88.56" stroke="#4a4a4a" stroke-width="2.5" stroke-linecap="round"/><line x1="512.20" y1="86.60" x2="516.40" y2="88.56" stroke="#dcdcdc" stroke-width="1.9" stroke-linecap="round"/>
<line x1="523.40" y1="84.97" x2="527.60" y2="86.92" stroke="#4a4a4a" stroke-width="2.5" stroke-linecap="round"/><line x1="523.40" y1="84.97" x2="527.60" y2="86.92" stroke="#dcdcdc" stroke-width="1.9" stroke-linecap="round"/>
<line x1="534.60" y1="83.33" x2="538.80" y2="85.29" stroke="#4a4a4a" stroke-width="2.5" stroke-linecap="round"/><line x1="534.60" y1="83.33" x2="538.80" y2="85.29" stroke="#dcdcdc" stroke-width="1.9" stroke-linecap="round"/>
<line x1="545.80" y1="81.70" x2="550.00" y2="83.65" stroke="#4a4a4a" stroke-width="2.5" stroke-linecap="round"/><line x1="545.80" y1="81.70" x2="550.00" y2="83.65" stroke="#dcdcdc" stroke-width="1.9" stroke-linecap="round"/>
<line x1="557.00" y1="80.06" x2="561.20" y2="82.02" stroke="#4a4a4a" stroke-width="2.5" stroke-linecap="round"/><line x1="557.00" y1="80.06" x2="561.20" y2="82.02" stroke="#dcdcdc" stroke-width="1.9" stroke-linecap="round"/>
<line x1="489.80" y1="88.56" x2="562.10" y2="78.00" stroke="#2a5aa8" stroke-width="3.4" stroke-linecap="round"/><line x1="489.80" y1="88.56" x2="562.10" y2="78.00" stroke="#3f7ddb" stroke-width="2.8" stroke-linecap="round"/><line x1="489.80" y1="88.00" x2="562.10" y2="77.44" stroke="#8ab6f2" stroke-width="0.9799999999999999" stroke-linecap="round"/>
<line x1="450.80" y1="66.01" x2="492.80" y2="85.58" stroke="#8c8c8c" stroke-width="2.9" stroke-linecap="round"/><line x1="450.80" y1="66.01" x2="492.80" y2="85.58" stroke="#f4f4f4" stroke-width="2.3" stroke-linecap="round"/><line x1="450.80" y1="65.55" x2="492.80" y2="85.12" stroke="#ffffff" stroke-width="0.8049999999999999" stroke-linecap="round"/>
<line x1="486.30" y1="79.71" x2="557.10" y2="69.37" stroke="#2a4f90" stroke-width="2.3" stroke-linecap="round"/><line x1="486.30" y1="79.71" x2="557.10" y2="69.37" stroke="#3566b8" stroke-width="1.7" stroke-linecap="round"/>
<line x1="450.80" y1="64.09" x2="455.80" y2="63.35" stroke="#2a5aa8" stroke-width="3.1" stroke-linecap="round"/><line x1="450.80" y1="64.09" x2="455.80" y2="63.35" stroke="#3f7ddb" stroke-width="2.5" stroke-linecap="round"/><line x1="450.80" y1="63.59" x2="455.80" y2="62.85" stroke="#8ab6f2" stroke-width="0.875" stroke-linecap="round"/>
<line x1="456.40" y1="66.69" x2="461.40" y2="65.96" stroke="#2a5aa8" stroke-width="3.1" stroke-linecap="round"/><line x1="456.40" y1="66.69" x2="461.40" y2="65.96" stroke="#3f7ddb" stroke-width="2.5" stroke-linecap="round"/><line x1="456.40" y1="66.19" x2="461.40" y2="65.46" stroke="#8ab6f2" stroke-width="0.875" stroke-linecap="round"/>
<line x1="462.00" y1="69.30" x2="467.00" y2="68.57" stroke="#2a5aa8" stroke-width="3.1" stroke-linecap="round"/><line x1="462.00" y1="69.30" x2="467.00" y2="68.57" stroke="#3f7ddb" stroke-width="2.5" stroke-linecap="round"/><line x1="462.00" y1="68.80" x2="467.00" y2="68.07" stroke="#8ab6f2" stroke-width="0.875" stroke-linecap="round"/>
<line x1="467.60" y1="71.91" x2="472.60" y2="71.18" stroke="#2a5aa8" stroke-width="3.1" stroke-linecap="round"/><line x1="467.60" y1="71.91" x2="472.60" y2="71.18" stroke="#3f7ddb" stroke-width="2.5" stroke-linecap="round"/><line x1="467.60" y1="71.41" x2="472.60" y2="70.68" stroke="#8ab6f2" stroke-width="0.875" stroke-linecap="round"/>
<line x1="473.20" y1="74.52" x2="478.20" y2="73.79" stroke="#2a5aa8" stroke-width="3.1" stroke-linecap="round"/><line x1="473.20" y1="74.52" x2="478.20" y2="73.79" stroke="#3f7ddb" stroke-width="2.5" stroke-linecap="round"/><line x1="473.20" y1="74.02" x2="478.20" y2="73.29" stroke="#8ab6f2" stroke-width="0.875" stroke-linecap="round"/>
<line x1="478.80" y1="77.13" x2="483.80" y2="76.40" stroke="#2a5aa8" stroke-width="3.1" stroke-linecap="round"/><line x1="478.80" y1="77.13" x2="483.80" y2="76.40" stroke="#3f7ddb" stroke-width="2.5" stroke-linecap="round"/><line x1="478.80" y1="76.63" x2="483.80" y2="75.90" stroke="#8ab6f2" stroke-width="0.875" stroke-linecap="round"/>
<line x1="489.80" y1="83.57" x2="494.00" y2="85.53" stroke="#4a4a4a" stroke-width="2.5" stroke-linecap="round"/><line x1="489.80" y1="83.57" x2="494.00" y2="85.53" stroke="#dcdcdc" stroke-width="1.9" stroke-linecap="round"/>
<line x1="501.00" y1="81.94" x2="505.20" y2="83.90" stroke="#4a4a4a" stroke-width="2.5" stroke-linecap="round"/><line x1="501.00" y1="81.94" x2="505.20" y2="83.90" stroke="#dcdcdc" stroke-width="1.9" stroke-linecap="round"/>
<line x1="512.20" y1="80.30" x2="516.40" y2="82.26" stroke="#4a4a4a" stroke-width="2.5" stroke-linecap="round"/><line x1="512.20" y1="80.30" x2="516.40" y2="82.26" stroke="#dcdcdc" stroke-width="1.9" stroke-linecap="round"/>
<line x1="523.40" y1="78.67" x2="527.60" y2="80.62" stroke="#4a4a4a" stroke-width="2.5" stroke-linecap="round"/><line x1="523.40" y1="78.67" x2="527.60" y2="80.62" stroke="#dcdcdc" stroke-width="1.9" stroke-linecap="round"/>
<line x1="534.60" y1="77.03" x2="538.80" y2="78.99" stroke="#4a4a4a" stroke-width="2.5" stroke-linecap="round"/><line x1="534.60" y1="77.03" x2="538.80" y2="78.99" stroke="#dcdcdc" stroke-width="1.9" stroke-linecap="round"/>
<line x1="545.80" y1="75.40" x2="550.00" y2="77.35" stroke="#4a4a4a" stroke-width="2.5" stroke-linecap="round"/><line x1="545.80" y1="75.40" x2="550.00" y2="77.35" stroke="#dcdcdc" stroke-width="1.9" stroke-linecap="round"/>
<line x1="557.00" y1="73.76" x2="561.20" y2="75.72" stroke="#4a4a4a" stroke-width="2.5" stroke-linecap="round"/><line x1="557.00" y1="73.76" x2="561.20" y2="75.72" stroke="#dcdcdc" stroke-width="1.9" stroke-linecap="round"/>
<line x1="489.80" y1="82.26" x2="562.10" y2="71.70" stroke="#2a5aa8" stroke-width="3.4" stroke-linecap="round"/><line x1="489.80" y1="82.26" x2="562.10" y2="71.70" stroke="#3f7ddb" stroke-width="2.8" stroke-linecap="round"/><line x1="489.80" y1="81.70" x2="562.10" y2="71.14" stroke="#8ab6f2" stroke-width="0.9799999999999999" stroke-linecap="round"/>
<line x1="450.80" y1="59.71" x2="492.80" y2="79.28" stroke="#8c8c8c" stroke-width="2.9" stroke-linecap="round"/><line x1="450.80" y1="59.71" x2="492.80" y2="79.28" stroke="#f4f4f4" stroke-width="2.3" stroke-linecap="round"/><line x1="450.80" y1="59.25" x2="492.80" y2="78.82" stroke="#ffffff" stroke-width="0.8049999999999999" stroke-linecap="round"/>
<line x1="486.30" y1="73.41" x2="557.10" y2="63.07" stroke="#2a4f90" stroke-width="2.3" stroke-linecap="round"/><line x1="486.30" y1="73.41" x2="557.10" y2="63.07" stroke="#3566b8" stroke-width="1.7" stroke-linecap="round"/>
<line x1="450.80" y1="57.79" x2="455.80" y2="57.05" stroke="#2a5aa8" stroke-width="3.1" stroke-linecap="round"/><line x1="450.80" y1="57.79" x2="455.80" y2="57.05" stroke="#3f7ddb" stroke-width="2.5" stroke-linecap="round"/><line x1="450.80" y1="57.29" x2="455.80" y2="56.55" stroke="#8ab6f2" stroke-width="0.875" stroke-linecap="round"/>
<line x1="456.40" y1="60.39" x2="461.40" y2="59.66" stroke="#2a5aa8" stroke-width="3.1" stroke-linecap="round"/><line x1="456.40" y1="60.39" x2="461.40" y2="59.66" stroke="#3f7ddb" stroke-width="2.5" stroke-linecap="round"/><line x1="456.40" y1="59.89" x2="461.40" y2="59.16" stroke="#8ab6f2" stroke-width="0.875" stroke-linecap="round"/>
<line x1="462.00" y1="63.00" x2="467.00" y2="62.27" stroke="#2a5aa8" stroke-width="3.1" stroke-linecap="round"/><line x1="462.00" y1="63.00" x2="467.00" y2="62.27" stroke="#3f7ddb" stroke-width="2.5" stroke-linecap="round"/><line x1="462.00" y1="62.50" x2="467.00" y2="61.77" stroke="#8ab6f2" stroke-width="0.875" stroke-linecap="round"/>
<line x1="467.60" y1="65.61" x2="472.60" y2="64.88" stroke="#2a5aa8" stroke-width="3.1" stroke-linecap="round"/><line x1="467.60" y1="65.61" x2="472.60" y2="64.88" stroke="#3f7ddb" stroke-width="2.5" stroke-linecap="round"/><line x1="467.60" y1="65.11" x2="472.60" y2="64.38" stroke="#8ab6f2" stroke-width="0.875" stroke-linecap="round"/>
<line x1="473.20" y1="68.22" x2="478.20" y2="67.49" stroke="#2a5aa8" stroke-width="3.1" stroke-linecap="round"/><line x1="473.20" y1="68.22" x2="478.20" y2="67.49" stroke="#3f7ddb" stroke-width="2.5" stroke-linecap="round"/><line x1="473.20" y1="67.72" x2="478.20" y2="66.99" stroke="#8ab6f2" stroke-width="0.875" stroke-linecap="round"/>
<line x1="478.80" y1="70.83" x2="483.80" y2="70.10" stroke="#2a5aa8" stroke-width="3.1" stroke-linecap="round"/><line x1="478.80" y1="70.83" x2="483.80" y2="70.10" stroke="#3f7ddb" stroke-width="2.5" stroke-linecap="round"/><line x1="478.80" y1="70.33" x2="483.80" y2="69.60" stroke="#8ab6f2" stroke-width="0.875" stroke-linecap="round"/>
<line x1="489.80" y1="77.27" x2="494.00" y2="79.23" stroke="#4a4a4a" stroke-width="2.5" stroke-linecap="round"/><line x1="489.80" y1="77.27" x2="494.00" y2="79.23" stroke="#dcdcdc" stroke-width="1.9" stroke-linecap="round"/>
<line x1="501.00" y1="75.64" x2="505.20" y2="77.59" stroke="#4a4a4a" stroke-width="2.5" stroke-linecap="round"/><line x1="501.00" y1="75.64" x2="505.20" y2="77.59" stroke="#dcdcdc" stroke-width="1.9" stroke-linecap="round"/>
<line x1="512.20" y1="74.00" x2="516.40" y2="75.96" stroke="#4a4a4a" stroke-width="2.5" stroke-linecap="round"/><line x1="512.20" y1="74.00" x2="516.40" y2="75.96" stroke="#dcdcdc" stroke-width="1.9" stroke-linecap="round"/>
<line x1="523.40" y1="72.37" x2="527.60" y2="74.32" stroke="#4a4a4a" stroke-width="2.5" stroke-linecap="round"/><line x1="523.40" y1="72.37" x2="527.60" y2="74.32" stroke="#dcdcdc" stroke-width="1.9" stroke-linecap="round"/>
<line x1="534.60" y1="70.73" x2="538.80" y2="72.69" stroke="#4a4a4a" stroke-width="2.5" stroke-linecap="round"/><line x1="534.60" y1="70.73" x2="538.80" y2="72.69" stroke="#dcdcdc" stroke-width="1.9" stroke-linecap="round"/>
<line x1="545.80" y1="69.10" x2="550.00" y2="71.05" stroke="#4a4a4a" stroke-width="2.5" stroke-linecap="round"/><line x1="545.80" y1="69.10" x2="550.00" y2="71.05" stroke="#dcdcdc" stroke-width="1.9" stroke-linecap="round"/>
<line x1="557.00" y1="67.46" x2="561.20" y2="69.42" stroke="#4a4a4a" stroke-width="2.5" stroke-linecap="round"/><line x1="557.00" y1="67.46" x2="561.20" y2="69.42" stroke="#dcdcdc" stroke-width="1.9" stroke-linecap="round"/>
<line x1="489.80" y1="75.96" x2="562.10" y2="65.40" stroke="#2a5aa8" stroke-width="3.4" stroke-linecap="round"/><line x1="489.80" y1="75.96" x2="562.10" y2="65.40" stroke="#3f7ddb" stroke-width="2.8" stroke-linecap="round"/><line x1="489.80" y1="75.40" x2="562.10" y2="64.84" stroke="#8ab6f2" stroke-width="0.9799999999999999" stroke-linecap="round"/>
<line x1="450.80" y1="53.41" x2="492.80" y2="72.98" stroke="#8c8c8c" stroke-width="2.9" stroke-linecap="round"/><line x1="450.80" y1="53.41" x2="492.80" y2="72.98" stroke="#f4f4f4" stroke-width="2.3" stroke-linecap="round"/><line x1="450.80" y1="52.95" x2="492.80" y2="72.52" stroke="#ffffff" stroke-width="0.8049999999999999" stroke-linecap="round"/>
<line x1="486.30" y1="67.11" x2="557.10" y2="56.77" stroke="#2a4f90" stroke-width="2.3" stroke-linecap="round"/><line x1="486.30" y1="67.11" x2="557.10" y2="56.77" stroke="#3566b8" stroke-width="1.7" stroke-linecap="round"/>
<line x1="450.80" y1="51.48" x2="455.80" y2="50.75" stroke="#2a5aa8" stroke-width="3.1" stroke-linecap="round"/><line x1="450.80" y1="51.48" x2="455.80" y2="50.75" stroke="#3f7ddb" stroke-width="2.5" stroke-linecap="round"/><line x1="450.80" y1="50.98" x2="455.80" y2="50.25" stroke="#8ab6f2" stroke-width="0.875" stroke-linecap="round"/>
<line x1="456.40" y1="54.09" x2="461.40" y2="53.36" stroke="#2a5aa8" stroke-width="3.1" stroke-linecap="round"/><line x1="456.40" y1="54.09" x2="461.40" y2="53.36" stroke="#3f7ddb" stroke-width="2.5" stroke-linecap="round"/><line x1="456.40" y1="53.59" x2="461.40" y2="52.86" stroke="#8ab6f2" stroke-width="0.875" stroke-linecap="round"/>
<line x1="462.00" y1="56.70" x2="467.00" y2="55.97" stroke="#2a5aa8" stroke-width="3.1" stroke-linecap="round"/><line x1="462.00" y1="56.70" x2="467.00" y2="55.97" stroke="#3f7ddb" stroke-width="2.5" stroke-linecap="round"/><line x1="462.00" y1="56.20" x2="467.00" y2="55.47" stroke="#8ab6f2" stroke-width="0.875" stroke-linecap="round"/>
<line x1="467.60" y1="59.31" x2="472.60" y2="58.58" stroke="#2a5aa8" stroke-width="3.1" stroke-linecap="round"/><line x1="467.60" y1="59.31" x2="472.60" y2="58.58" stroke="#3f7ddb" stroke-width="2.5" stroke-linecap="round"/><line x1="467.60" y1="58.81" x2="472.60" y2="58.08" stroke="#8ab6f2" stroke-width="0.875" stroke-linecap="round"/>
<line x1="473.20" y1="61.92" x2="478.20" y2="61.19" stroke="#2a5aa8" stroke-width="3.1" stroke-linecap="round"/><line x1="473.20" y1="61.92" x2="478.20" y2="61.19" stroke="#3f7ddb" stroke-width="2.5" stroke-linecap="round"/><line x1="473.20" y1="61.42" x2="478.20" y2="60.69" stroke="#8ab6f2" stroke-width="0.875" stroke-linecap="round"/>
<line x1="478.80" y1="64.53" x2="483.80" y2="63.80" stroke="#2a5aa8" stroke-width="3.1" stroke-linecap="round"/><line x1="478.80" y1="64.53" x2="483.80" y2="63.80" stroke="#3f7ddb" stroke-width="2.5" stroke-linecap="round"/><line x1="478.80" y1="64.03" x2="483.80" y2="63.30" stroke="#8ab6f2" stroke-width="0.875" stroke-linecap="round"/>
<line x1="489.80" y1="70.97" x2="494.00" y2="72.93" stroke="#4a4a4a" stroke-width="2.5" stroke-linecap="round"/><line x1="489.80" y1="70.97" x2="494.00" y2="72.93" stroke="#dcdcdc" stroke-width="1.9" stroke-linecap="round"/>
<line x1="501.00" y1="69.34" x2="505.20" y2="71.30" stroke="#4a4a4a" stroke-width="2.5" stroke-linecap="round"/><line x1="501.00" y1="69.34" x2="505.20" y2="71.30" stroke="#dcdcdc" stroke-width="1.9" stroke-linecap="round"/>
<line x1="512.20" y1="67.70" x2="516.40" y2="69.66" stroke="#4a4a4a" stroke-width="2.5" stroke-linecap="round"/><line x1="512.20" y1="67.70" x2="516.40" y2="69.66" stroke="#dcdcdc" stroke-width="1.9" stroke-linecap="round"/>
<line x1="523.40" y1="66.07" x2="527.60" y2="68.02" stroke="#4a4a4a" stroke-width="2.5" stroke-linecap="round"/><line x1="523.40" y1="66.07" x2="527.60" y2="68.02" stroke="#dcdcdc" stroke-width="1.9" stroke-linecap="round"/>
<line x1="534.60" y1="64.43" x2="538.80" y2="66.39" stroke="#4a4a4a" stroke-width="2.5" stroke-linecap="round"/><line x1="534.60" y1="64.43" x2="538.80" y2="66.39" stroke="#dcdcdc" stroke-width="1.9" stroke-linecap="round"/>
<line x1="545.80" y1="62.80" x2="550.00" y2="64.75" stroke="#4a4a4a" stroke-width="2.5" stroke-linecap="round"/><line x1="545.80" y1="62.80" x2="550.00" y2="64.75" stroke="#dcdcdc" stroke-width="1.9" stroke-linecap="round"/>
<line x1="557.00" y1="61.16" x2="561.20" y2="63.12" stroke="#4a4a4a" stroke-width="2.5" stroke-linecap="round"/><line x1="557.00" y1="61.16" x2="561.20" y2="63.12" stroke="#dcdcdc" stroke-width="1.9" stroke-linecap="round"/>
<line x1="489.80" y1="69.66" x2="562.10" y2="59.10" stroke="#2a5aa8" stroke-width="3.4" stroke-linecap="round"/><line x1="489.80" y1="69.66" x2="562.10" y2="59.10" stroke="#3f7ddb" stroke-width="2.8" stroke-linecap="round"/><line x1="489.80" y1="69.10" x2="562.10" y2="58.54" stroke="#8ab6f2" stroke-width="0.9799999999999999" stroke-linecap="round"/>
<line x1="450.80" y1="47.11" x2="492.80" y2="66.68" stroke="#8c8c8c" stroke-width="2.9" stroke-linecap="round"/><line x1="450.80" y1="47.11" x2="492.80" y2="66.68" stroke="#f4f4f4" stroke-width="2.3" stroke-linecap="round"/><line x1="450.80" y1="46.65" x2="492.80" y2="66.22" stroke="#ffffff" stroke-width="0.8049999999999999" stroke-linecap="round"/>
<line x1="450.80" y1="45.19" x2="523.10" y2="34.63" stroke="#2a5aa8" stroke-width="3.2" stroke-linecap="round"/><line x1="450.80" y1="45.19" x2="523.10" y2="34.63" stroke="#3f7ddb" stroke-width="2.6" stroke-linecap="round"/><line x1="450.80" y1="44.66" x2="523.10" y2="34.11" stroke="#8ab6f2" stroke-width="0.9099999999999999" stroke-linecap="round"/>
<line x1="458.60" y1="48.82" x2="530.90" y2="38.26" stroke="#2a5aa8" stroke-width="3.2" stroke-linecap="round"/><line x1="458.60" y1="48.82" x2="530.90" y2="38.26" stroke="#3f7ddb" stroke-width="2.6" stroke-linecap="round"/><line x1="458.60" y1="48.30" x2="530.90" y2="37.74" stroke="#8ab6f2" stroke-width="0.9099999999999999" stroke-linecap="round"/>
<line x1="466.40" y1="52.45" x2="538.70" y2="41.90" stroke="#2a5aa8" stroke-width="3.2" stroke-linecap="round"/><line x1="466.40" y1="52.45" x2="538.70" y2="41.90" stroke="#3f7ddb" stroke-width="2.6" stroke-linecap="round"/><line x1="466.40" y1="51.93" x2="538.70" y2="41.38" stroke="#8ab6f2" stroke-width="0.9099999999999999" stroke-linecap="round"/>
<line x1="474.20" y1="56.09" x2="546.50" y2="45.53" stroke="#2a5aa8" stroke-width="3.2" stroke-linecap="round"/><line x1="474.20" y1="56.09" x2="546.50" y2="45.53" stroke="#3f7ddb" stroke-width="2.6" stroke-linecap="round"/><line x1="474.20" y1="55.57" x2="546.50" y2="45.01" stroke="#8ab6f2" stroke-width="0.9099999999999999" stroke-linecap="round"/>
<line x1="482.00" y1="59.72" x2="554.30" y2="49.17" stroke="#2a5aa8" stroke-width="3.2" stroke-linecap="round"/><line x1="482.00" y1="59.72" x2="554.30" y2="49.17" stroke="#3f7ddb" stroke-width="2.6" stroke-linecap="round"/><line x1="482.00" y1="59.20" x2="554.30" y2="48.65" stroke="#8ab6f2" stroke-width="0.9099999999999999" stroke-linecap="round"/>
<line x1="489.80" y1="64.67" x2="494.00" y2="66.63" stroke="#4a4a4a" stroke-width="2.5" stroke-linecap="round"/><line x1="489.80" y1="64.67" x2="494.00" y2="66.63" stroke="#dcdcdc" stroke-width="1.9" stroke-linecap="round"/>
<line x1="501.00" y1="63.04" x2="505.20" y2="65.00" stroke="#4a4a4a" stroke-width="2.5" stroke-linecap="round"/><line x1="501.00" y1="63.04" x2="505.20" y2="65.00" stroke="#dcdcdc" stroke-width="1.9" stroke-linecap="round"/>
<line x1="512.20" y1="61.40" x2="516.40" y2="63.36" stroke="#4a4a4a" stroke-width="2.5" stroke-linecap="round"/><line x1="512.20" y1="61.40" x2="516.40" y2="63.36" stroke="#dcdcdc" stroke-width="1.9" stroke-linecap="round"/>
<line x1="523.40" y1="59.77" x2="527.60" y2="61.72" stroke="#4a4a4a" stroke-width="2.5" stroke-linecap="round"/><line x1="523.40" y1="59.77" x2="527.60" y2="61.72" stroke="#dcdcdc" stroke-width="1.9" stroke-linecap="round"/>
<line x1="534.60" y1="58.13" x2="538.80" y2="60.09" stroke="#4a4a4a" stroke-width="2.5" stroke-linecap="round"/><line x1="534.60" y1="58.13" x2="538.80" y2="60.09" stroke="#dcdcdc" stroke-width="1.9" stroke-linecap="round"/>
<line x1="545.80" y1="56.50" x2="550.00" y2="58.45" stroke="#4a4a4a" stroke-width="2.5" stroke-linecap="round"/><line x1="545.80" y1="56.50" x2="550.00" y2="58.45" stroke="#dcdcdc" stroke-width="1.9" stroke-linecap="round"/>
<line x1="557.00" y1="54.86" x2="561.20" y2="56.82" stroke="#4a4a4a" stroke-width="2.5" stroke-linecap="round"/><line x1="557.00" y1="54.86" x2="561.20" y2="56.82" stroke="#dcdcdc" stroke-width="1.9" stroke-linecap="round"/>
<line x1="489.80" y1="63.36" x2="562.10" y2="52.80" stroke="#2a5aa8" stroke-width="3.4" stroke-linecap="round"/><line x1="489.80" y1="63.36" x2="562.10" y2="52.80" stroke="#3f7ddb" stroke-width="2.8" stroke-linecap="round"/><line x1="489.80" y1="62.80" x2="562.10" y2="52.24" stroke="#8ab6f2" stroke-width="0.9799999999999999" stroke-linecap="round"/>
<path d="M468.1,40.2 L468.1,46.4 A37.9,9.5 0 0 0 543.9,46.4 L543.9,40.2 Z" fill="url(#disk)" stroke="#555" stroke-width="0.5"/>
<ellipse cx="506" cy="40.2" rx="37.9" ry="9.5" fill="#f2f2f2" stroke="#555" stroke-width="0.5"/>
<polygon points="501.7,20.5 511.7,20.5 511.7,27.2 516.2,27.2 506.7,37.7 497.2,27.2 501.7,27.2" fill="#000"/>
<polygon points="501.7,116.7 511.7,116.7 511.7,110 516.2,110 506.7,99.9 497.2,110 501.7,110" fill="#000"/>
<rect x="429.5" y="7.5" width="246.0" height="246.0" fill="none" stroke="#8e8e8e" stroke-width="1.15"/>
<line x1="440.91" y1="253.5" x2="440.91" y2="251.90" stroke="#8e8e8e" stroke-width="1.15"/>
<line x1="440.91" y1="7.5" x2="440.91" y2="9.10" stroke="#8e8e8e" stroke-width="1.15"/>
<line x1="453.76" y1="253.5" x2="453.76" y2="251.90" stroke="#8e8e8e" stroke-width="1.15"/>
<line x1="453.76" y1="7.5" x2="453.76" y2="9.10" stroke="#8e8e8e" stroke-width="1.15"/>
<line x1="464.89" y1="253.5" x2="464.89" y2="251.90" stroke="#8e8e8e" stroke-width="1.15"/>
<line x1="464.89" y1="7.5" x2="464.89" y2="9.10" stroke="#8e8e8e" stroke-width="1.15"/>
<line x1="474.71" y1="253.5" x2="474.71" y2="251.90" stroke="#8e8e8e" stroke-width="1.15"/>
<line x1="474.71" y1="7.5" x2="474.71" y2="9.10" stroke="#8e8e8e" stroke-width="1.15"/>
<line x1="483.50" y1="253.5" x2="483.50" y2="250.90" stroke="#8e8e8e" stroke-width="1.15"/>
<line x1="483.50" y1="7.5" x2="483.50" y2="10.10" stroke="#8e8e8e" stroke-width="1.15"/>
<line x1="541.30" y1="253.5" x2="541.30" y2="251.90" stroke="#8e8e8e" stroke-width="1.15"/>
<line x1="541.30" y1="7.5" x2="541.30" y2="9.10" stroke="#8e8e8e" stroke-width="1.15"/>
<line x1="575.11" y1="253.5" x2="575.11" y2="251.90" stroke="#8e8e8e" stroke-width="1.15"/>
<line x1="575.11" y1="7.5" x2="575.11" y2="9.10" stroke="#8e8e8e" stroke-width="1.15"/>
<line x1="599.10" y1="253.5" x2="599.10" y2="251.90" stroke="#8e8e8e" stroke-width="1.15"/>
<line x1="599.10" y1="7.5" x2="599.10" y2="9.10" stroke="#8e8e8e" stroke-width="1.15"/>
<line x1="617.70" y1="253.5" x2="617.70" y2="251.90" stroke="#8e8e8e" stroke-width="1.15"/>
<line x1="617.70" y1="7.5" x2="617.70" y2="9.10" stroke="#8e8e8e" stroke-width="1.15"/>
<line x1="632.91" y1="253.5" x2="632.91" y2="251.90" stroke="#8e8e8e" stroke-width="1.15"/>
<line x1="632.91" y1="7.5" x2="632.91" y2="9.10" stroke="#8e8e8e" stroke-width="1.15"/>
<line x1="645.76" y1="253.5" x2="645.76" y2="251.90" stroke="#8e8e8e" stroke-width="1.15"/>
<line x1="645.76" y1="7.5" x2="645.76" y2="9.10" stroke="#8e8e8e" stroke-width="1.15"/>
<line x1="656.89" y1="253.5" x2="656.89" y2="251.90" stroke="#8e8e8e" stroke-width="1.15"/>
<line x1="656.89" y1="7.5" x2="656.89" y2="9.10" stroke="#8e8e8e" stroke-width="1.15"/>
<line x1="666.71" y1="253.5" x2="666.71" y2="251.90" stroke="#8e8e8e" stroke-width="1.15"/>
<line x1="666.71" y1="7.5" x2="666.71" y2="9.10" stroke="#8e8e8e" stroke-width="1.15"/>
<line x1="429.5" y1="243.36" x2="431.10" y2="243.36" stroke="#8e8e8e" stroke-width="1.15"/>
<line x1="675.5" y1="243.36" x2="673.90" y2="243.36" stroke="#8e8e8e" stroke-width="1.15"/>
<line x1="429.5" y1="235.24" x2="431.10" y2="235.24" stroke="#8e8e8e" stroke-width="1.15"/>
<line x1="675.5" y1="235.24" x2="673.90" y2="235.24" stroke="#8e8e8e" stroke-width="1.15"/>
<line x1="429.5" y1="228.38" x2="431.10" y2="228.38" stroke="#8e8e8e" stroke-width="1.15"/>
<line x1="675.5" y1="228.38" x2="673.90" y2="228.38" stroke="#8e8e8e" stroke-width="1.15"/>
<line x1="429.5" y1="222.43" x2="431.10" y2="222.43" stroke="#8e8e8e" stroke-width="1.15"/>
<line x1="675.5" y1="222.43" x2="673.90" y2="222.43" stroke="#8e8e8e" stroke-width="1.15"/>
<line x1="429.5" y1="217.19" x2="431.10" y2="217.19" stroke="#8e8e8e" stroke-width="1.15"/>
<line x1="675.5" y1="217.19" x2="673.90" y2="217.19" stroke="#8e8e8e" stroke-width="1.15"/>
<line x1="429.5" y1="212.50" x2="432.10" y2="212.50" stroke="#8e8e8e" stroke-width="1.15"/>
<line x1="675.5" y1="212.50" x2="672.90" y2="212.50" stroke="#8e8e8e" stroke-width="1.15"/>
<line x1="429.5" y1="181.64" x2="431.10" y2="181.64" stroke="#8e8e8e" stroke-width="1.15"/>
<line x1="675.5" y1="181.64" x2="673.90" y2="181.64" stroke="#8e8e8e" stroke-width="1.15"/>
<line x1="429.5" y1="163.60" x2="431.10" y2="163.60" stroke="#8e8e8e" stroke-width="1.15"/>
<line x1="675.5" y1="163.60" x2="673.90" y2="163.60" stroke="#8e8e8e" stroke-width="1.15"/>
<line x1="429.5" y1="150.79" x2="431.10" y2="150.79" stroke="#8e8e8e" stroke-width="1.15"/>
<line x1="675.5" y1="150.79" x2="673.90" y2="150.79" stroke="#8e8e8e" stroke-width="1.15"/>
<line x1="429.5" y1="140.86" x2="431.10" y2="140.86" stroke="#8e8e8e" stroke-width="1.15"/>
<line x1="675.5" y1="140.86" x2="673.90" y2="140.86" stroke="#8e8e8e" stroke-width="1.15"/>
<line x1="429.5" y1="132.74" x2="431.10" y2="132.74" stroke="#8e8e8e" stroke-width="1.15"/>
<line x1="675.5" y1="132.74" x2="673.90" y2="132.74" stroke="#8e8e8e" stroke-width="1.15"/>
<line x1="429.5" y1="125.88" x2="431.10" y2="125.88" stroke="#8e8e8e" stroke-width="1.15"/>
<line x1="675.5" y1="125.88" x2="673.90" y2="125.88" stroke="#8e8e8e" stroke-width="1.15"/>
<line x1="429.5" y1="119.93" x2="431.10" y2="119.93" stroke="#8e8e8e" stroke-width="1.15"/>
<line x1="675.5" y1="119.93" x2="673.90" y2="119.93" stroke="#8e8e8e" stroke-width="1.15"/>
<line x1="429.5" y1="114.69" x2="431.10" y2="114.69" stroke="#8e8e8e" stroke-width="1.15"/>
<line x1="675.5" y1="114.69" x2="673.90" y2="114.69" stroke="#8e8e8e" stroke-width="1.15"/>
<line x1="429.5" y1="110.00" x2="432.10" y2="110.00" stroke="#8e8e8e" stroke-width="1.15"/>
<line x1="675.5" y1="110.00" x2="672.90" y2="110.00" stroke="#8e8e8e" stroke-width="1.15"/>
<line x1="429.5" y1="79.14" x2="431.10" y2="79.14" stroke="#8e8e8e" stroke-width="1.15"/>
<line x1="675.5" y1="79.14" x2="673.90" y2="79.14" stroke="#8e8e8e" stroke-width="1.15"/>
<line x1="429.5" y1="61.10" x2="431.10" y2="61.10" stroke="#8e8e8e" stroke-width="1.15"/>
<line x1="675.5" y1="61.10" x2="673.90" y2="61.10" stroke="#8e8e8e" stroke-width="1.15"/>
<line x1="429.5" y1="48.29" x2="431.10" y2="48.29" stroke="#8e8e8e" stroke-width="1.15"/>
<line x1="675.5" y1="48.29" x2="673.90" y2="48.29" stroke="#8e8e8e" stroke-width="1.15"/>
<line x1="429.5" y1="38.36" x2="431.10" y2="38.36" stroke="#8e8e8e" stroke-width="1.15"/>
<line x1="675.5" y1="38.36" x2="673.90" y2="38.36" stroke="#8e8e8e" stroke-width="1.15"/>
<line x1="429.5" y1="30.24" x2="431.10" y2="30.24" stroke="#8e8e8e" stroke-width="1.15"/>
<line x1="675.5" y1="30.24" x2="673.90" y2="30.24" stroke="#8e8e8e" stroke-width="1.15"/>
<line x1="429.5" y1="23.38" x2="431.10" y2="23.38" stroke="#8e8e8e" stroke-width="1.15"/>
<line x1="675.5" y1="23.38" x2="673.90" y2="23.38" stroke="#8e8e8e" stroke-width="1.15"/>
<line x1="429.5" y1="17.43" x2="431.10" y2="17.43" stroke="#8e8e8e" stroke-width="1.15"/>
<line x1="675.5" y1="17.43" x2="673.90" y2="17.43" stroke="#8e8e8e" stroke-width="1.15"/>
<line x1="429.5" y1="12.19" x2="431.10" y2="12.19" stroke="#8e8e8e" stroke-width="1.15"/>
<line x1="675.5" y1="12.19" x2="673.90" y2="12.19" stroke="#8e8e8e" stroke-width="1.15"/>
<text x="424.80" y="16.00" font-family="Liberation Serif" font-size="15" fill="#000" text-anchor="end">10<tspan font-size="11.5" dy="-7">-1</tspan></text>
<text x="424.80" y="118.20" font-family="Liberation Serif" font-size="15" fill="#000" text-anchor="end">10<tspan font-size="11.5" dy="-7">-2</tspan></text>
<text x="424.80" y="221.00" font-family="Liberation Serif" font-size="15" fill="#000" text-anchor="end">10<tspan font-size="11.5" dy="-7">-3</tspan></text>
<text x="471.10" y="274.80" font-family="Liberation Serif" font-size="15" fill="#000" text-anchor="start">10<tspan font-size="11.5" dy="-7">-1</tspan></text>
<text x="665.00" y="274.80" font-family="Liberation Serif" font-size="15" fill="#000" text-anchor="start">10<tspan font-size="11.5" dy="-7">0</tspan></text>
<text x="362.3" y="155" font-family="Liberation Serif" font-style="italic" font-size="14" fill="#000">E</text>
<line x1="363.3" y1="143.3" x2="372" y2="143.3" stroke="#000" stroke-width="0.9"/>
<polyline points="373.3,152.5 375.2,151.2 379.2,169 385.8,135.2 396,135.2" fill="none" stroke="#000" stroke-width="0.9"/>
<text x="388.4" y="147.2" font-family="Liberation Serif" font-style="italic" font-size="13" fill="#000">r</text>
<line x1="388" y1="150.8" x2="395.8" y2="150.8" stroke="#000" stroke-width="0.9"/>
<text x="389" y="165.6" font-family="Liberation Serif" font-style="italic" font-size="13" fill="#000">t</text>
<text x="546.7" y="298.5" font-family="Liberation Serif" font-style="italic" font-size="24" fill="#000">ρ</text>
<line x1="547.7" y1="285.2" x2="558.3" y2="285.2" stroke="#000" stroke-width="0.9"/>
<line x1="429.5" y1="252.7" x2="641.2" y2="27.9" stroke="#000" stroke-width="1.5"/>
<path d="M429.50,252.70 C451.25,229.60 530.42,145.52 560.00,114.10 C589.58,82.68 598.17,73.45 607.00,64.20 C615.83,54.95 610.85,60.47 613.00,58.60 C615.15,56.73 617.37,55.03 619.90,53.00 C622.43,50.97 625.28,48.80 628.20,46.40 C631.12,44.00 635.87,39.90 637.40,38.60" fill="none" stroke="#0000ff" stroke-width="1.3" stroke-dasharray="3.6,2.2"/>
<path d="M429.50,253.00 C437.92,244.05 467.42,212.70 480.00,199.30 C492.58,185.90 499.67,178.25 505.00,172.60 C510.33,166.95 509.60,167.57 512.00,165.40 C514.40,163.23 515.68,162.30 519.40,159.60 C523.12,156.90 529.57,152.68 534.30,149.20 C539.03,145.72 543.55,142.20 547.80,138.70 C552.05,135.20 556.32,131.27 559.80,128.20 C563.28,125.13 567.22,121.62 568.70,120.30" fill="none" stroke="#ff0000" stroke-width="1.3" stroke-dasharray="3.6,2.2" stroke-dashoffset="2.9"/>
<circle cx="583" cy="75.8" r="2.1" fill="#0000ff"/>
<circle cx="580.7" cy="96.7" r="2.1" fill="#0000ff"/>
<circle cx="549.8" cy="112.4" r="2.1" fill="#0000ff"/>
<circle cx="551.6" cy="120" r="2.1" fill="#0000ff"/>
<circle cx="507.4" cy="145.5" r="2.1" fill="#0000ff"/>
<circle cx="511" cy="147.3" r="2.1" fill="#0000ff"/>
<circle cx="486.5" cy="171.8" r="2.1" fill="#0000ff"/>
<circle cx="485.9" cy="181.4" r="2.1" fill="#0000ff"/>
<rect x="571.3000000000001" y="119.1" width="3.8" height="3.8" fill="#ff0000"/>
<rect x="573.1" y="131.9" width="3.8" height="3.8" fill="#ff0000"/>
<polygon points="500.8,188.6 520.2,188.6 520.2,169.8" fill="none" stroke="#000" stroke-width="0.9"/>
<text x="522" y="183.3" font-family="Liberation Serif" font-size="10" fill="#000">2</text>
<rect x="495.7" y="194.9" width="176" height="52.9" fill="#fff" stroke="#8e8e8e" stroke-width="0.9"/>
<line x1="497.1" y1="200.3" x2="513.6" y2="200.3" stroke="#000" stroke-width="1.5"/>
<text x="515.4" y="203.1" font-family="Liberation Serif" font-size="8.4" fill="#000" textLength="26.2" lengthAdjust="spacingAndGlyphs">Theory</text>
<line x1="497.1" y1="211.0" x2="513.6" y2="211.0" stroke="#0000ff" stroke-width="1.2" stroke-dasharray="3.8,2.5"/>
<text x="515.4" y="213.6" font-family="Liberation Serif" font-size="8.4" fill="#000" textLength="69.6" lengthAdjust="spacingAndGlyphs">FE simulations for</text>
<text x="588.8000000000001" y="210.2" font-family="Liberation Serif" font-style="italic" font-size="5.2" fill="#000">t</text><line x1="588.5" y1="211.0" x2="591.6" y2="211.0" stroke="#000" stroke-width="0.45"/><text x="588.6" y="215.2" font-family="Liberation Serif" font-style="italic" font-size="5.2" fill="#000">r</text>
<text x="595.3" y="213.6" font-family="Liberation Serif" font-size="8.4" fill="#000" textLength="19.6" lengthAdjust="spacingAndGlyphs">= 0.5</text>
<line x1="497.1" y1="220.7" x2="513.6" y2="220.7" stroke="#ff0000" stroke-width="1.2" stroke-dasharray="3.8,2.5"/>
<text x="515.4" y="223.6" font-family="Liberation Serif" font-size="8.4" fill="#000" textLength="69.6" lengthAdjust="spacingAndGlyphs">FE simulations for</text>
<text x="588.8000000000001" y="220.2" font-family="Liberation Serif" font-style="italic" font-size="5.2" fill="#000">t</text><line x1="588.5" y1="221.0" x2="591.6" y2="221.0" stroke="#000" stroke-width="0.45"/><text x="588.6" y="225.2" font-family="Liberation Serif" font-style="italic" font-size="5.2" fill="#000">r</text>
<text x="595.3" y="223.6" font-family="Liberation Serif" font-size="8.4" fill="#000" textLength="19.6" lengthAdjust="spacingAndGlyphs">= 0.3</text>
<circle cx="505.5" cy="232.3" r="2.2" fill="#0000ff"/>
<text x="515.1" y="234.6" font-family="Liberation Serif" font-size="8.4" fill="#000" textLength="122.9" lengthAdjust="spacingAndGlyphs">Expt <tspan font-style="italic">r</tspan> = 0.4 mm, <tspan font-style="italic">t</tspan> = 0.20 mm (</text>
<text x="639.4000000000001" y="231.2" font-family="Liberation Serif" font-style="italic" font-size="5.2" fill="#000">t</text><line x1="639.1" y1="232.0" x2="642.2" y2="232.0" stroke="#000" stroke-width="0.45"/><text x="639.2" y="236.2" font-family="Liberation Serif" font-style="italic" font-size="5.2" fill="#000">r</text>
<text x="645.6" y="234.6" font-family="Liberation Serif" font-size="8.4" fill="#000" textLength="23.3" lengthAdjust="spacingAndGlyphs">= 0.5)</text>
<rect x="503.3" y="240.9" width="4.5" height="4.5" fill="#ff0000"/>
<text x="515.1" y="244.6" font-family="Liberation Serif" font-size="8.4" fill="#000" textLength="122.9" lengthAdjust="spacingAndGlyphs">Expt <tspan font-style="italic">r</tspan> = 0.5 mm, <tspan font-style="italic">t</tspan> = 0.15 mm (</text>
<text x="639.4000000000001" y="241.2" font-family="Liberation Serif" font-style="italic" font-size="5.2" fill="#000">t</text><line x1="639.1" y1="242.0" x2="642.2" y2="242.0" stroke="#000" stroke-width="0.45"/><text x="639.2" y="246.2" font-family="Liberation Serif" font-style="italic" font-size="5.2" fill="#000">r</text>
<text x="645.6" y="244.6" font-family="Liberation Serif" font-size="8.4" fill="#000" textLength="23.3" lengthAdjust="spacingAndGlyphs">= 0.3)</text>
</svg>
</body></html>
